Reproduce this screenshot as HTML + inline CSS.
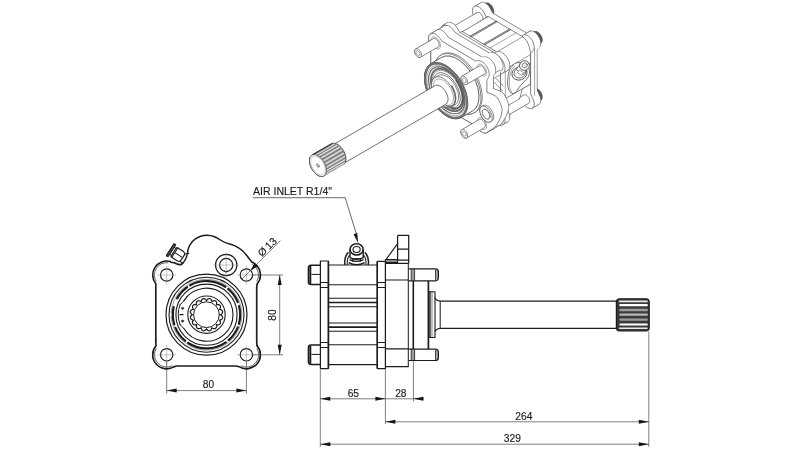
<!DOCTYPE html>
<html><head><meta charset="utf-8"><title>drawing</title>
<style>html,body{margin:0;padding:0;background:#fff}body{width:800px;height:450px;overflow:hidden;font-family:"Liberation Sans",sans-serif}svg{display:block}</style>
</head><body>
<svg width="800" height="450" viewBox="0 0 800 450">
<rect width="800" height="450" fill="#fff"/>
<g stroke-linejoin="round" stroke-linecap="round">
<path d="M485.8 3.2L486.6 2.9L487.6 2.9L488.6 3.2L489.6 3.8L490.6 4.7L491.6 5.7L492.4 7L493 8.3L493.5 9.6L493.7 10.9L493.7 12.1L493.5 13.2L493 14L492.4 14.5L488.9 16.6L488 16.9L487.1 16.9L486.1 16.5L485.1 15.9L484.1 15.1L483.1 14L482.3 12.8L481.7 11.5L481.2 10.1L481 8.8L481 7.6L481.2 6.6L481.6 5.8L482.3 5.2Z" fill="#5a5a5a" stroke="#3a3a3a" stroke-width="0.7"/>
<path d="M490.2 13.6L490.1 12.4L489.7 11L489.2 9.7L488.5 8.4L487.6 7.3L486.6 6.3L485.6 5.6L484.5 5.1L483.6 4.9L482.7 5L482 5.4L481.4 6.1L481.1 7.1L481 8.2L481.1 9.4L481.4 10.8L482 12.1L482.7 13.4L483.6 14.5L484.5 15.5L485.6 16.3L486.6 16.7L487.6 16.9L488.5 16.8L489.2 16.4L489.7 15.7L490.1 14.7Z" fill="#5a5a5a" stroke="#3a3a3a" stroke-width="0.7"/>
<path d="M534.3 31.7L535.1 31.4L536.1 31.5L537.1 31.8L538.1 32.4L539.1 33.2L540.1 34.3L540.9 35.5L541.5 36.8L542 38.2L542.2 39.5L542.2 40.7L542 41.7L541.5 42.5L540.9 43.1L537.4 45.2L536.6 45.4L535.6 45.4L534.6 45.1L533.6 44.5L532.6 43.6L531.6 42.6L530.8 41.4L530.2 40L529.7 38.7L529.5 37.4L529.5 36.2L529.7 35.1L530.2 34.3L530.8 33.8Z" fill="#5a5a5a" stroke="#3a3a3a" stroke-width="0.7"/>
<path d="M538.7 42.2L538.6 40.9L538.2 39.6L537.7 38.3L537 37L536.1 35.8L535.1 34.9L534.1 34.1L533.1 33.6L532.1 33.5L531.2 33.6L530.5 34L529.9 34.7L529.6 35.6L529.5 36.7L529.6 38L529.9 39.3L530.5 40.7L531.2 42L532.1 43.1L533.1 44.1L534.1 44.8L535.1 45.3L536.1 45.5L537 45.3L537.7 44.9L538.2 44.2L538.6 43.3Z" fill="#5a5a5a" stroke="#3a3a3a" stroke-width="0.7"/>
<path d="M534.3 88.6L535.1 88.3L536.1 88.3L537.1 88.6L538.1 89.2L539.1 90.1L540.1 91.2L540.9 92.4L541.5 93.7L542 95L542.2 96.4L542.2 97.6L542 98.6L541.5 99.4L540.9 100L537.4 102L536.6 102.3L535.6 102.3L534.6 102L533.6 101.4L532.6 100.5L531.6 99.4L530.8 98.2L530.2 96.9L529.7 95.6L529.5 94.3L529.5 93L529.7 92L530.2 91.2L530.8 90.6Z" fill="#5a5a5a" stroke="#3a3a3a" stroke-width="0.7"/>
<path d="M538.7 99L538.6 97.8L538.2 96.5L537.7 95.1L537 93.8L536.1 92.7L535.1 91.7L534.1 91L533.1 90.5L532.1 90.3L531.2 90.4L530.5 90.9L529.9 91.6L529.6 92.5L529.5 93.6L529.6 94.9L529.9 96.2L530.5 97.5L531.2 98.8L532.1 100L533.1 100.9L534.1 101.7L535.1 102.2L536.1 102.3L537 102.2L537.7 101.8L538.2 101.1L538.6 100.2Z" fill="#5a5a5a" stroke="#3a3a3a" stroke-width="0.7"/>
<path d="M537.3 49.1L538.9 47.6L540.3 45.9L540.7 44.4L540.7 42.8L540.5 41.3L540.1 39.8L539.6 38.4L538.9 37L538.1 35.7L537.2 34.5L536.2 33.4L535 32.4L533.7 31.6L532.3 31L530.6 30.9L526.9 33.2L492.8 13.1L489.1 6.4L487.3 4.5L485.9 3.4L484.6 2.7L483.5 2.4L482.4 2.3L481.5 2.4L480.7 2.8L480.1 3.4L479.5 4.2L479.1 5.2L478.9 6.5L479 8L479.4 10.1L480.7 13.3L482.7 17.2L482.7 58.1L480.7 59.7L479.4 61.3L479 62.9L478.9 64.4L479.1 65.9L479.5 67.4L480.1 68.8L480.7 70.2L481.5 71.5L482.4 72.7L483.5 73.8L484.6 74.8L485.9 75.6L487.3 76.2L489.1 76.4L492.2 74.7L527.5 95.4L530.6 100.8L532.3 102.7L533.7 103.8L535 104.5L536.2 104.9L537.2 105L538.1 104.8L538.9 104.4L539.6 103.9L540.1 103.1L540.5 102L540.7 100.8L540.7 99.2L540.3 97.2L538.9 93.9L537.3 90.4Z" fill="#fff" stroke="#4d4d4d" stroke-width="0.7"/>
<path d="M536.5 49.5L538.2 48L539.5 46.3L539.9 44.8L540 43.2L539.8 41.7L539.4 40.3L538.9 38.8L538.2 37.5L537.4 36.2L536.5 34.9L535.5 33.8L534.3 32.8L533 32L531.6 31.4L529.8 31.3L526.2 33.6L492 13.5L488.4 6.9L486.6 5L485.2 3.8L483.9 3.2L482.8 2.8L481.7 2.7L480.8 2.8L480 3.2L479.3 3.8L478.8 4.6L478.4 5.6L478.2 6.9L478.3 8.5L478.7 10.5L480 13.7L482 17.6L482 58.5L480 60.1L478.7 61.7L478.3 63.3L478.2 64.8L478.4 66.3L478.8 67.8L479.3 69.2L480 70.6L480.8 71.9L481.7 73.1L482.8 74.3L483.9 75.2L485.2 76.1L486.6 76.6L488.4 76.8L491.5 75.1L526.7 95.9L529.8 101.2L531.6 103.1L533 104.2L534.3 104.9L535.5 105.3L536.5 105.4L537.4 105.2L538.2 104.9L538.9 104.3L539.4 103.5L539.8 102.5L540 101.2L539.9 99.6L539.5 97.6L538.2 94.3L536.5 90.8Z" fill="#fff" stroke="none" stroke-width="0"/>
<path d="M535.8 50L537.5 48.4L538.8 46.8L539.2 45.2L539.3 43.7L539.1 42.2L538.7 40.7L538.2 39.3L537.5 37.9L536.7 36.6L535.8 35.3L534.7 34.2L533.6 33.2L532.3 32.4L530.9 31.8L529.1 31.7L525.4 34.1L491.3 14L487.6 7.3L485.9 5.4L484.5 4.3L483.2 3.6L482 3.2L481 3.1L480.1 3.3L479.3 3.6L478.6 4.2L478.1 5L477.7 6L477.5 7.3L477.5 8.9L477.9 10.9L479.3 14.2L481.2 18.1L481.2 58.9L479.3 60.5L477.9 62.2L477.5 63.7L477.5 65.2L477.7 66.7L478.1 68.2L478.6 69.7L479.3 71L480.1 72.3L481 73.6L482 74.7L483.2 75.7L484.5 76.5L485.9 77.1L487.6 77.2L490.8 75.5L526 96.3L529.1 101.6L530.9 103.5L532.3 104.7L533.6 105.3L534.7 105.7L535.8 105.8L536.7 105.7L537.5 105.3L538.2 104.7L538.7 103.9L539.1 102.9L539.3 101.6L539.2 100L538.8 98L537.5 94.7L535.8 91.2Z" fill="#fff" stroke="none" stroke-width="0"/>
<path d="M535.1 50.4L536.8 48.8L538.1 47.2L538.5 45.6L538.5 44.1L538.3 42.6L538 41.1L537.4 39.7L536.8 38.3L536 37L535 35.8L534 34.6L532.9 33.7L531.6 32.8L530.1 32.3L528.4 32.1L524.7 34.5L490.6 14.4L486.9 7.7L485.2 5.8L483.7 4.7L482.5 4L481.3 3.6L480.3 3.5L479.4 3.7L478.6 4L477.9 4.6L477.4 5.4L477 6.4L476.8 7.7L476.8 9.3L477.2 11.3L478.6 14.6L480.5 18.5L480.5 59.3L478.6 60.9L477.2 62.6L476.8 64.1L476.8 65.7L477 67.2L477.4 68.6L477.9 70.1L478.6 71.4L479.4 72.8L480.3 74L481.3 75.1L482.5 76.1L483.7 76.9L485.2 77.5L486.9 77.6L490 75.9L525.3 96.7L528.4 102L530.1 104L531.6 105.1L532.9 105.8L534 106.1L535 106.2L536 106.1L536.8 105.7L537.4 105.1L538 104.3L538.3 103.3L538.5 102L538.5 100.4L538.1 98.4L536.8 95.2L535.1 91.7Z" fill="#fff" stroke="none" stroke-width="0"/>
<path d="M534.4 50.8L536 49.3L537.4 47.6L537.8 46L537.8 44.5L537.6 43L537.2 41.5L536.7 40.1L536 38.7L535.2 37.4L534.3 36.2L533.3 35.1L532.1 34.1L530.9 33.3L529.4 32.7L527.7 32.5L524 34.9L489.9 14.8L486.2 8.1L484.5 6.2L483 5.1L481.7 4.4L480.6 4L479.6 3.9L478.6 4.1L477.8 4.5L477.2 5L476.6 5.8L476.3 6.9L476.1 8.1L476.1 9.7L476.5 11.8L477.8 15L479.8 18.9L479.8 59.7L477.8 61.3L476.5 63L476.1 64.5L476.1 66.1L476.3 67.6L476.6 69.1L477.2 70.5L477.8 71.9L478.6 73.2L479.6 74.4L480.6 75.5L481.7 76.5L483 77.3L484.5 77.9L486.2 78L489.3 76.4L524.6 97.1L527.7 102.5L529.4 104.4L530.9 105.5L532.1 106.2L533.3 106.5L534.3 106.6L535.2 106.5L536 106.1L536.7 105.5L537.2 104.7L537.6 103.7L537.8 102.4L537.8 100.9L537.4 98.8L536 95.6L534.4 92.1Z" fill="#fff" stroke="none" stroke-width="0"/>
<path d="M533.7 51.2L535.3 49.7L536.7 48L537.1 46.5L537.1 44.9L536.9 43.4L536.5 41.9L536 40.5L535.3 39.1L534.5 37.8L533.6 36.6L532.6 35.5L531.4 34.5L530.1 33.7L528.7 33.1L527 33L523.3 35.3L489.2 15.2L485.5 8.5L483.7 6.6L482.3 5.5L481 4.8L479.9 4.5L478.8 4.4L477.9 4.5L477.1 4.9L476.5 5.5L475.9 6.3L475.5 7.3L475.3 8.6L475.4 10.1L475.8 12.2L477.1 15.4L479.1 19.3L479.1 60.1L477.1 61.7L475.8 63.4L475.4 65L475.3 66.5L475.5 68L475.9 69.5L476.5 70.9L477.1 72.3L477.9 73.6L478.8 74.8L479.9 75.9L481 76.9L482.3 77.7L483.7 78.3L485.5 78.5L488.6 76.8L523.8 97.5L527 102.9L528.7 104.8L530.1 105.9L531.4 106.6L532.6 107L533.6 107.1L534.5 106.9L535.3 106.5L536 106L536.5 105.2L536.9 104.1L537.1 102.9L537.1 101.3L536.7 99.2L535.3 96L533.7 92.5Z" fill="#fff" stroke="none" stroke-width="0"/>
<path d="M532.9 51.6L534.6 50.1L535.9 48.4L536.3 46.9L536.4 45.3L536.2 43.8L535.8 42.4L535.3 40.9L534.6 39.6L533.8 38.2L532.9 37L531.8 35.9L530.7 34.9L529.4 34.1L528 33.5L526.2 33.4L522.6 35.7L488.4 15.6L484.8 9L483 7L481.6 5.9L480.3 5.2L479.2 4.9L478.1 4.8L477.2 4.9L476.4 5.3L475.7 5.9L475.2 6.7L474.8 7.7L474.6 9L474.7 10.6L475.1 12.6L476.4 15.8L478.4 19.7L478.4 60.6L476.4 62.2L475.1 63.8L474.7 65.4L474.6 66.9L474.8 68.4L475.2 69.9L475.7 71.3L476.4 72.7L477.2 74L478.1 75.2L479.2 76.4L480.3 77.3L481.6 78.2L483 78.7L484.8 78.9L487.9 77.2L523.1 97.9L526.2 103.3L528 105.2L529.4 106.3L530.7 107L531.8 107.4L532.9 107.5L533.8 107.3L534.6 107L535.3 106.4L535.8 105.6L536.2 104.6L536.4 103.3L536.3 101.7L535.9 99.7L534.6 96.4L532.9 92.9Z" fill="#fff" stroke="none" stroke-width="0"/>
<path d="M532.2 52.1L533.9 50.5L535.2 48.8L535.6 47.3L535.7 45.8L535.5 44.3L535.1 42.8L534.5 41.3L533.9 40L533.1 38.7L532.2 37.4L531.1 36.3L530 35.3L528.7 34.5L527.3 33.9L525.5 33.8L521.8 36.2L487.7 16.1L484 9.4L482.3 7.5L480.9 6.3L479.6 5.7L478.4 5.3L477.4 5.2L476.5 5.3L475.7 5.7L475 6.3L474.5 7.1L474.1 8.1L473.9 9.4L473.9 11L474.3 13L475.7 16.3L477.6 20.1L477.6 61L475.7 62.6L474.3 64.2L473.9 65.8L473.9 67.3L474.1 68.8L474.5 70.3L475 71.7L475.7 73.1L476.5 74.4L477.4 75.7L478.4 76.8L479.6 77.8L480.9 78.6L482.3 79.2L484 79.3L487.2 77.6L522.4 98.4L525.5 103.7L527.3 105.6L528.7 106.7L530 107.4L531.1 107.8L532.2 107.9L533.1 107.7L533.9 107.4L534.5 106.8L535.1 106L535.5 105L535.7 103.7L535.6 102.1L535.2 100.1L533.9 96.8L532.2 93.3Z" fill="#fff" stroke="none" stroke-width="0"/>
<path d="M531.5 52.5L533.2 50.9L534.5 49.3L534.9 47.7L534.9 46.2L534.7 44.7L534.4 43.2L533.8 41.8L533.2 40.4L532.4 39.1L531.4 37.9L530.4 36.7L529.3 35.8L528 34.9L526.5 34.4L524.8 34.2L521.1 36.6L487 16.5L483.3 9.8L481.6 7.9L480.1 6.8L478.9 6.1L477.7 5.7L476.7 5.6L475.8 5.8L475 6.1L474.3 6.7L473.8 7.5L473.4 8.5L473.2 9.8L473.2 11.4L473.6 13.4L475 16.7L476.9 20.6L476.9 61.4L475 63L473.6 64.7L473.2 66.2L473.2 67.8L473.4 69.3L473.8 70.7L474.3 72.2L475 73.5L475.8 74.8L476.7 76.1L477.7 77.2L478.9 78.2L480.1 79L481.6 79.6L483.3 79.7L486.4 78L521.7 98.8L524.8 104.1L526.5 106L528 107.2L529.3 107.8L530.4 108.2L531.4 108.3L532.4 108.2L533.2 107.8L533.8 107.2L534.4 106.4L534.7 105.4L534.9 104.1L534.9 102.5L534.5 100.5L533.2 97.3L531.5 93.8Z" fill="#fff" stroke="none" stroke-width="0"/>
<path d="M530.6 30.9L524.1 34.6" fill="none" stroke="#4d4d4d" stroke-width="0.7"/>
<path d="M480.7 2.8L474.2 6.6" fill="none" stroke="#4d4d4d" stroke-width="0.7"/>
<path d="M538.9 104.4L532.4 108.2" fill="none" stroke="#4d4d4d" stroke-width="0.7"/>
<path d="M530.8 52.9L532.4 51.3L533.8 49.7L534.2 48.1L534.2 46.6L534 45.1L533.6 43.6L533.1 42.2L532.4 40.8L531.6 39.5L530.7 38.3L529.7 37.2L528.5 36.2L527.3 35.4L525.8 34.8L524.1 34.6L520.4 37L486.3 16.9L482.6 10.2L480.9 8.3L479.4 7.2L478.1 6.5L477 6.1L476 6L475 6.2L474.2 6.6L473.6 7.1L473 7.9L472.7 9L472.5 10.2L472.5 11.8L472.9 13.8L474.2 17.1L476.2 21L476.2 61.8L474.2 63.4L472.9 65.1L472.5 66.6L472.5 68.2L472.7 69.7L473 71.2L473.6 72.6L474.2 74L475 75.3L476 76.5L477 77.6L478.1 78.6L479.4 79.4L480.9 80L482.6 80.1L485.7 78.4L521 99.2L524.1 104.6L525.8 106.5L527.3 107.6L528.5 108.3L529.7 108.6L530.7 108.7L531.6 108.6L532.4 108.2L533.1 107.6L533.6 106.8L534 105.8L534.2 104.5L534.2 103L533.8 100.9L532.4 97.7L530.8 94.2Z" fill="#fff" stroke="#4d4d4d" stroke-width="0.7"/>
<path d="M534.6 95.4L534.6 48.6" fill="none" stroke="#4d4d4d" stroke-width="0.5"/>
<path d="M477.3 12.6L477.9 12.4L478.5 12.4L479.3 12.6L480 13L480.8 13.7L481.4 14.4L482 15.3L482.5 16.3L482.8 17.2L483 18.2L483 19.1L482.8 19.8L482.5 20.4L482 20.8L456.1 35.9L455.5 36.1L454.8 36.1L454.1 35.8L453.3 35.4L452.6 34.8L451.9 34L451.3 33.1L450.9 32.2L450.5 31.2L450.4 30.2L450.4 29.4L450.5 28.6L450.9 28L451.3 27.6Z" fill="#fff" stroke="#4d4d4d" stroke-width="0.7"/>
<path d="M457 33.7L457 32.8L456.7 31.8L456.3 30.9L455.8 29.9L455.2 29.1L454.4 28.4L453.7 27.9L453 27.5L452.2 27.4L451.6 27.5L451.1 27.8L450.7 28.3L450.4 29L450.3 29.8L450.4 30.7L450.7 31.7L451.1 32.6L451.6 33.6L452.2 34.4L453 35.1L453.7 35.6L454.4 36L455.2 36.1L455.8 36L456.3 35.7L456.7 35.2L457 34.5Z" fill="#fff" stroke="#4d4d4d" stroke-width="0.7"/>
<path d="M524.1 94.9L524.6 94.7L525.3 94.8L526 95L526.8 95.4L527.5 96.1L528.2 96.8L528.8 97.7L529.3 98.7L529.6 99.6L529.8 100.6L529.8 101.5L529.6 102.2L529.3 102.8L528.8 103.2L502.9 118.3L502.3 118.5L501.6 118.5L500.9 118.2L500.1 117.8L499.4 117.2L498.7 116.4L498.1 115.5L497.6 114.6L497.3 113.6L497.1 112.6L497.1 111.8L497.3 111L497.6 110.4L498.1 110Z" fill="#fff" stroke="#4d4d4d" stroke-width="0.7"/>
<path d="M503.8 116.1L503.7 115.2L503.5 114.2L503.1 113.3L502.6 112.3L501.9 111.5L501.2 110.8L500.5 110.3L499.7 109.9L499 109.8L498.4 109.9L497.9 110.2L497.5 110.7L497.2 111.4L497.1 112.2L497.2 113.1L497.5 114.1L497.9 115L498.4 116L499 116.8L499.7 117.5L500.5 118L501.2 118.4L501.9 118.5L502.6 118.4L503.1 118.1L503.5 117.6L503.7 116.9Z" fill="#fff" stroke="#4d4d4d" stroke-width="0.7"/>
<path d="M488.3 16.6L522.7 36.8L524.7 38.5L526.6 40.9L528.2 43.9L529.4 47.4L530.2 51L530.5 54.6L530.5 84.1L522.4 88.7L519.5 98.9L479.1 75.1L476.2 69.5L476.2 24Z" fill="#fff" stroke="#4d4d4d" stroke-width="0.7"/>
<path d="M487.6 17L522 37.3L524 38.9L525.8 41.3L527.4 44.4L528.7 47.8L529.5 51.5L529.7 55.1L529.7 84.5L521.6 89.1L518.7 99.3L478.3 75.5L475.4 69.9L475.4 24.5Z" fill="#fff" stroke="none" stroke-width="0"/>
<path d="M486.8 17.5L521.2 37.7L523.2 39.3L525.1 41.8L526.7 44.8L527.9 48.3L528.7 51.9L529 55.5L529 85L520.9 89.6L518 99.8L477.6 76L474.7 70.4L474.7 24.9Z" fill="#fff" stroke="none" stroke-width="0"/>
<path d="M486 17.9L520.4 38.2L522.5 39.8L524.3 42.2L525.9 45.3L527.2 48.7L527.9 52.4L528.2 56L528.2 85.4L520.1 90L517.2 100.2L476.8 76.4L473.9 70.8L473.9 25.3Z" fill="#fff" stroke="none" stroke-width="0"/>
<path d="M485.3 18.3L519.7 38.6L521.7 40.2L523.6 42.7L525.2 45.7L526.4 49.2L527.2 52.8L527.4 56.4L527.4 85.8L519.3 90.4L516.5 100.7L476 76.9L473.1 71.3L473.1 25.8Z" fill="#fff" stroke="none" stroke-width="0"/>
<path d="M484.5 18.8L518.9 39L520.9 40.7L522.8 43.1L524.4 46.1L525.6 49.6L526.4 53.3L526.7 56.8L526.7 86.3L518.6 90.9L515.7 101.1L475.3 77.3L472.4 71.7L472.4 26.2Z" fill="#fff" stroke="none" stroke-width="0"/>
<path d="M483.7 19.2L518.2 39.5L520.2 41.1L522 43.5L523.6 46.6L524.9 50.1L525.6 53.7L525.9 57.3L525.9 86.7L517.8 91.3L514.9 101.5L474.5 77.7L471.6 72.2L471.6 26.7Z" fill="#fff" stroke="none" stroke-width="0"/>
<path d="M483 19.7L517.4 39.9L519.4 41.6L521.3 44L522.9 47L524.1 50.5L524.9 54.1L525.1 57.7L525.1 87.2L517 91.8L514.2 102L473.7 78.2L470.8 72.6L470.8 27.1Z" fill="#fff" stroke="none" stroke-width="0"/>
<path d="M482.2 20.1L516.6 40.4L518.6 42L520.5 44.4L522.1 47.5L523.3 50.9L524.1 54.6L524.4 58.2L524.4 87.6L516.3 92.2L513.4 102.4L473 78.6L470.1 73L470.1 27.6Z" fill="#fff" stroke="none" stroke-width="0"/>
<path d="M481.4 20.6L515.9 40.8L517.9 42.4L519.7 44.9L521.3 47.9L522.6 51.4L523.3 55L523.6 58.6L523.6 88.1L515.5 92.7L512.6 102.9L472.2 79.1L469.3 73.5L469.3 28Z" fill="#fff" stroke="none" stroke-width="0"/>
<path d="M480.7 21L515.1 41.3L517.1 42.9L519 45.3L520.6 48.4L521.8 51.8L522.6 55.5L522.8 59.1L522.8 88.5L514.8 93.1L511.9 103.3L471.4 79.5L468.6 73.9L468.6 28.4Z" fill="#fff" stroke="none" stroke-width="0"/>
<path d="M479.9 21.4L514.3 41.7L516.3 43.3L518.2 45.8L519.8 48.8L521 52.3L521.8 55.9L522.1 59.5L522.1 88.9L514 93.5L511.1 103.8L470.7 80L467.8 74.4L467.8 28.9Z" fill="#fff" stroke="none" stroke-width="0"/>
<path d="M479.2 21.9L513.6 42.1L515.6 43.8L517.4 46.2L519 49.2L520.3 52.7L521.1 56.4L521.3 59.9L521.3 89.4L513.2 94L510.3 104.2L469.9 80.4L467 74.8L467 29.3Z" fill="#fff" stroke="none" stroke-width="0"/>
<path d="M478.4 22.3L512.8 42.6L514.8 44.2L516.7 46.6L518.3 49.7L519.5 53.2L520.3 56.8L520.6 60.4L520.6 89.8L512.5 94.4L509.6 104.6L469.2 80.8L466.3 75.3L466.3 29.8Z" fill="#fff" stroke="none" stroke-width="0"/>
<path d="M477.6 22.8L512.1 43L514.1 44.7L515.9 47.1L517.5 50.1L518.8 53.6L519.5 57.3L519.8 60.8L519.8 90.3L511.7 94.9L508.8 105.1L468.4 81.3L465.5 75.7L465.5 30.2Z" fill="#fff" stroke="none" stroke-width="0"/>
<path d="M476.9 23.2L511.3 43.5L513.3 45.1L515.2 47.5L516.8 50.6L518 54L518.8 57.7L519 61.3L519 90.7L510.9 95.3L508.1 105.5L467.6 81.7L464.7 76.1L464.7 30.7Z" fill="#fff" stroke="none" stroke-width="0"/>
<path d="M476.1 23.7L510.5 43.9L512.5 45.5L514.4 48L516 51L517.2 54.5L518 58.1L518.3 61.7L518.3 91.2L510.2 95.8L507.3 106L466.9 82.2L464 76.6L464 31.1Z" fill="#fff" stroke="none" stroke-width="0"/>
<path d="M475.3 24.1L509.8 44.4L511.8 46L513.6 48.4L515.2 51.5L516.5 54.9L517.2 58.6L517.5 62.2L517.5 91.6L509.4 96.2L506.5 106.4L466.1 82.6L463.2 77L463.2 31.5Z" fill="#fff" stroke="none" stroke-width="0"/>
<path d="M474.6 24.5L509 44.8L511 46.4L512.9 48.9L514.5 51.9L515.7 55.4L516.5 59L516.7 62.6L516.7 92L508.6 96.6L505.8 106.9L465.3 83.1L462.4 77.5L462.4 32Z" fill="#fff" stroke="none" stroke-width="0"/>
<path d="M473.8 25L508.2 45.2L510.2 46.9L512.1 49.3L513.7 52.3L514.9 55.8L515.7 59.5L516 63.1L516 92.5L507.9 97.1L505 107.3L464.6 83.5L461.7 77.9L461.7 32.4Z" fill="#fff" stroke="none" stroke-width="0"/>
<path d="M473.1 25.4L507.5 45.7L509.5 47.3L511.3 49.7L512.9 52.8L514.2 56.3L514.9 59.9L515.2 63.5L515.2 92.9L507.1 97.5L504.2 107.7L463.8 83.9L460.9 78.4L460.9 32.9Z" fill="#fff" stroke="none" stroke-width="0"/>
<path d="M472.3 25.9L506.7 46.1L508.7 47.8L510.6 50.2L512.2 53.2L513.4 56.7L514.2 60.4L514.4 63.9L514.4 93.4L506.4 98L503.5 108.2L463 84.4L460.2 78.8L460.2 33.3Z" fill="#fff" stroke="none" stroke-width="0"/>
<path d="M471.5 26.3L505.9 46.6L507.9 48.2L509.8 50.6L511.4 53.7L512.6 57.1L513.4 60.8L513.7 64.4L513.7 93.8L505.6 98.4L502.7 108.6L462.3 84.8L459.4 79.2L459.4 33.8Z" fill="#fff" stroke="none" stroke-width="0"/>
<path d="M470.8 26.8L505.2 47L507.2 48.7L509 51.1L510.7 54.1L511.9 57.6L512.7 61.2L512.9 64.8L512.9 94.3L504.8 98.9L501.9 109.1L461.5 85.3L458.6 79.7L458.6 34.2Z" fill="#fff" stroke="none" stroke-width="0"/>
<path d="M470 27.2L504.4 47.5L506.4 49.1L508.3 51.5L509.9 54.6L511.1 58L511.9 61.7L512.2 65.3L512.2 94.7L504.1 99.3L501.2 109.5L460.8 85.7L457.9 80.1L457.9 34.6Z" fill="#fff" stroke="none" stroke-width="0"/>
<path d="M469.2 27.6L503.7 47.9L505.7 49.5L507.5 52L509.1 55L510.4 58.5L511.1 62.1L511.4 65.7L511.4 95.1L503.3 99.8L500.4 110L460 86.2L457.1 80.6L457.1 35.1Z" fill="#fff" stroke="none" stroke-width="0"/>
<path d="M468.5 28.1L502.9 48.3L504.9 50L506.8 52.4L508.4 55.5L509.6 58.9L510.4 62.6L510.6 66.2L510.6 95.6L502.5 100.2L499.7 110.4L459.2 86.6L456.3 81L456.3 35.5Z" fill="#fff" stroke="none" stroke-width="0"/>
<path d="M467.7 28.5L502.1 48.8L504.1 50.4L506 52.8L507.6 55.9L508.8 59.4L509.6 63L509.9 66.6L509.9 96L501.8 100.6L498.9 110.8L458.5 87L455.6 81.5L455.6 36Z" fill="#fff" stroke="none" stroke-width="0"/>
<path d="M466.9 29L501.4 49.2L503.4 50.9L505.2 53.3L506.8 56.3L508.1 59.8L508.8 63.5L509.1 67L509.1 96.5L501 101.1L498.1 111.3L457.7 87.5L454.8 81.9L454.8 36.4Z" fill="#fff" stroke="none" stroke-width="0"/>
<path d="M466.2 29.4L500.6 49.7L502.6 51.3L504.5 53.7L506.1 56.8L507.3 60.2L508.1 63.9L508.3 67.5L508.3 96.9L500.3 101.5L497.4 111.7L456.9 87.9L454.1 82.4L454.1 36.9Z" fill="#fff" stroke="none" stroke-width="0"/>
<path d="M465.4 29.9L499.8 50.1L501.8 51.8L503.7 54.2L505.3 57.2L506.5 60.7L507.3 64.3L507.6 67.9L507.6 97.4L499.5 102L496.6 112.2L456.2 88.4L453.3 82.8L453.3 37.3Z" fill="#fff" stroke="none" stroke-width="0"/>
<path d="M464.7 30.3L499.1 50.6L501.1 52.2L502.9 54.6L504.5 57.7L505.8 61.1L506.5 64.8L506.8 68.4L506.8 97.8L498.7 102.4L495.8 112.6L455.4 88.8L452.5 83.2L452.5 37.7Z" fill="#fff" stroke="none" stroke-width="0"/>
<path d="M463.9 30.7L498.3 51L500.3 52.6L502.2 55.1L503.8 58.1L505 61.6L505.8 65.2L506 68.8L506 98.2L498 102.9L495.1 113.1L454.6 89.3L451.8 83.7L451.8 38.2Z" fill="#fff" stroke="none" stroke-width="0"/>
<path d="M463.1 31.2L497.5 51.5L499.5 53.1L501.4 55.5L503 58.6L504.2 62L505 65.7L505.3 69.3L505.3 98.7L497.2 103.3L494.3 113.5L453.9 89.7L451 84.1L451 38.6Z" fill="#fff" stroke="none" stroke-width="0"/>
<path d="M462.4 31.6L496.8 51.9L498.8 53.5L500.6 55.9L502.3 59L503.5 62.5L504.3 66.1L504.5 69.7L504.5 99.1L496.4 103.7L493.5 113.9L453.1 90.1L450.2 84.6L450.2 39.1Z" fill="#fff" stroke="#4d4d4d" stroke-width="0.7"/>
<path d="M488.3 16.6L462.4 31.6" fill="none" stroke="#4d4d4d" stroke-width="0.7"/>
<path d="M522.7 36.8L496.8 51.9" fill="none" stroke="#4d4d4d" stroke-width="0.55"/>
<path d="M530.5 54.6L504.5 69.7" fill="none" stroke="#4d4d4d" stroke-width="0.55"/>
<path d="M530.5 84.1L504.5 99.1" fill="none" stroke="#4d4d4d" stroke-width="0.7"/>
<path d="M519.5 98.9L493.5 113.9" fill="none" stroke="#4d4d4d" stroke-width="0.6"/>
<path d="M496.1 21.1L470.1 36.2" fill="none" stroke="#555" stroke-width="0.9"/>
<path d="M497.1 21.7L471.1 36.8" fill="none" stroke="#555" stroke-width="0.9"/>
<path d="M509.6 29.1L483.6 44.1" fill="none" stroke="#555" stroke-width="0.9"/>
<path d="M510.6 29.7L484.7 44.8" fill="none" stroke="#555" stroke-width="0.9"/>
<path d="M516 32.9L490.1 48" fill="none" stroke="#4d4d4d" stroke-width="0.5"/>
<path d="M513 65Q510.6 67.2 509.4 70.5Q507.6 76 507.5 83Q507.6 88 509.4 91Q511 93.8 513.2 93.6Q515.4 93.2 517 90.6Q518.4 88 520.4 85.6Q523 82.6 526 80Q529 77.2 529.6 73Q530 68 526.6 64.6Q522 61.6 517 62.6Q514.6 63.4 513 65Z" fill="#fff" stroke="#4d4d4d" stroke-width="0.8"/>
<path d="M514.4 66.2Q511.6 68.6 510.4 73Q509 79 509.3 85Q509.6 89.6 511.6 91.8" fill="none" stroke="#4d4d4d" stroke-width="0.5"/>
<ellipse cx="519.5" cy="73.5" rx="7.7" ry="6.5" transform="rotate(-20 519.5 73.5)" fill="#fff" stroke="#555" stroke-width="0.9"/>
<ellipse cx="519.9" cy="72.9" rx="6.0" ry="5.0" transform="rotate(-20 519.9 72.9)" fill="#fff" stroke="#4d4d4d" stroke-width="0.7"/>
<path d="M516.4 69.2L521.6 62.2L528.2 66.6L523.6 74.4Z" fill="#fff" stroke="#4d4d4d" stroke-width="0.7"/>
<path d="M517.6 72.4L519.4 70L523.6 72.6L521.8 75Z" fill="#fff" stroke="#4d4d4d" stroke-width="0.6"/>
<ellipse cx="524.5" cy="65.5" rx="5.0" ry="4.8" transform="rotate(-20 524.5 65.5)" fill="#fff" stroke="#555" stroke-width="0.9"/>
<ellipse cx="524.7" cy="65.3" rx="2.7" ry="2.5" transform="rotate(-20 524.7 65.3)" fill="#e6e6e6" stroke="#4d4d4d" stroke-width="0.6"/>
<path d="M505.4 71.3L508.3 70L509.2 68.6L509.6 67.2L509.7 65.7L509.6 64.3L509.4 62.9L508.9 61.4L508.4 60L507.7 58.7L506.9 57.4L506.1 56.1L505.1 54.9L504 53.9L502.8 53L501.4 52.2L499.9 51.7L498.1 51.6L495 53.1L459.7 32.3L456.7 27.2L454.8 25.1L453.3 23.9L452 23.1L450.8 22.6L449.7 22.3L448.7 22.3L447.8 22.5L447 22.9L446.4 23.5L445.8 24.3L445.4 25.2L445.1 26.3L445 27.7L445.2 29.2L445.6 31.1L446.4 33.5L449.7 38.7L449.7 73.6L446.4 74.9L445.6 76.3L445.2 77.7L445 79.2L445.1 80.6L445.4 82L445.8 83.5L446.4 84.9L447 86.2L447.8 87.5L448.7 88.8L449.7 89.9L450.8 91L452 91.9L453.3 92.7L454.8 93.2L456.7 93.3L459.1 92.5L495.6 114L498.1 117.7L499.9 119.8L501.4 121L502.8 121.8L504 122.3L505.1 122.5L506.1 122.6L506.9 122.4L507.7 122L508.4 121.4L508.9 120.6L509.4 119.7L509.6 118.6L509.7 117.2L509.6 115.7L509.2 113.8L508.3 111.4L505.4 106.6Z" fill="#fff" stroke="#4d4d4d" stroke-width="0.7"/>
<path d="M504.7 71.7L507.6 70.4L508.5 69L508.9 67.6L509 66.1L508.9 64.7L508.7 63.2L508.3 61.8L507.7 60.4L507.1 59.1L506.3 57.7L505.4 56.5L504.4 55.3L503.3 54.3L502.1 53.4L500.8 52.6L499.2 52.1L497.4 52L494.4 53.5L459 32.7L456 27.6L454.2 25.5L452.7 24.3L451.3 23.5L450.1 23L449 22.7L448 22.7L447.1 22.9L446.4 23.3L445.7 23.9L445.1 24.6L444.7 25.6L444.5 26.7L444.4 28.1L444.5 29.6L444.9 31.5L445.8 33.9L449 39.1L449 74L445.8 75.3L444.9 76.7L444.5 78.1L444.4 79.5L444.5 81L444.7 82.4L445.1 83.9L445.7 85.3L446.4 86.6L447.1 87.9L448 89.2L449 90.3L450.1 91.4L451.3 92.3L452.7 93.1L454.2 93.6L456 93.7L458.4 92.9L495 114.4L497.4 118.1L499.2 120.2L500.8 121.4L502.1 122.2L503.3 122.7L504.4 122.9L505.4 122.9L506.3 122.8L507.1 122.4L507.7 121.8L508.3 121L508.7 120.1L508.9 119L509 117.6L508.9 116.1L508.5 114.2L507.6 111.7L504.7 106.9Z" fill="#fff" stroke="none" stroke-width="0"/>
<path d="M504 72.1L507 70.8L507.9 69.4L508.3 68L508.4 66.5L508.3 65.1L508 63.6L507.6 62.2L507 60.8L506.4 59.4L505.6 58.1L504.7 56.9L503.7 55.7L502.6 54.7L501.4 53.7L500.1 53L498.6 52.5L496.7 52.4L493.7 53.9L458.4 33.1L455.3 28L453.5 25.9L452 24.7L450.6 23.9L449.4 23.4L448.3 23.1L447.3 23.1L446.5 23.3L445.7 23.7L445 24.3L444.5 25L444 26L443.8 27.1L443.7 28.4L443.8 30L444.2 31.9L445.1 34.3L448.3 39.5L448.3 74.3L445.1 75.7L444.2 77.1L443.8 78.5L443.7 79.9L443.8 81.4L444 82.8L444.5 84.3L445 85.7L445.7 87L446.5 88.3L447.3 89.6L448.3 90.7L449.4 91.8L450.6 92.7L452 93.5L453.5 94L455.3 94.1L457.8 93.3L494.3 114.8L496.7 118.5L498.6 120.5L500.1 121.8L501.4 122.6L502.6 123.1L503.7 123.3L504.7 123.3L505.6 123.1L506.4 122.8L507 122.2L507.6 121.4L508 120.5L508.3 119.4L508.4 118L508.3 116.4L507.9 114.6L507 112.1L504 107.3Z" fill="#fff" stroke="none" stroke-width="0"/>
<path d="M503.4 72.5L506.3 71.1L507.2 69.8L507.6 68.4L507.7 66.9L507.6 65.5L507.3 64L506.9 62.6L506.4 61.2L505.7 59.8L504.9 58.5L504 57.3L503 56.1L501.9 55.1L500.7 54.1L499.4 53.4L497.9 52.9L496.1 52.8L493 54.3L457.7 33.5L454.6 28.4L452.8 26.3L451.3 25.1L450 24.2L448.8 23.8L447.7 23.5L446.7 23.5L445.8 23.7L445 24.1L444.3 24.7L443.8 25.4L443.4 26.4L443.1 27.5L443 28.8L443.1 30.4L443.5 32.3L444.4 34.7L447.6 39.9L447.6 74.7L444.4 76.1L443.5 77.5L443.1 78.9L443 80.3L443.1 81.8L443.4 83.2L443.8 84.6L444.3 86L445 87.4L445.8 88.7L446.7 90L447.7 91.1L448.8 92.2L450 93.1L451.3 93.9L452.8 94.4L454.6 94.5L457.1 93.6L493.6 115.1L496.1 118.8L497.9 120.9L499.4 122.2L500.7 123L501.9 123.5L503 123.7L504 123.7L504.9 123.5L505.7 123.1L506.4 122.6L506.9 121.8L507.3 120.9L507.6 119.7L507.7 118.4L507.6 116.8L507.2 115L506.3 112.5L503.4 107.7Z" fill="#fff" stroke="none" stroke-width="0"/>
<path d="M502.7 72.9L505.6 71.5L506.5 70.2L506.9 68.7L507 67.3L506.9 65.9L506.7 64.4L506.2 63L505.7 61.6L505 60.2L504.2 58.9L503.4 57.7L502.4 56.5L501.3 55.5L500.1 54.5L498.7 53.8L497.2 53.2L495.4 53.2L492.3 54.6L457 33.8L454 28.8L452.1 26.7L450.6 25.4L449.3 24.6L448.1 24.1L447 23.9L446 23.9L445.1 24.1L444.3 24.5L443.7 25.1L443.1 25.8L442.7 26.8L442.4 27.9L442.3 29.2L442.5 30.8L442.9 32.7L443.7 35.1L447 40.3L447 75.1L443.7 76.5L442.9 77.9L442.5 79.3L442.3 80.7L442.4 82.2L442.7 83.6L443.1 85L443.7 86.4L444.3 87.8L445.1 89.1L446 90.4L447 91.5L448.1 92.6L449.3 93.5L450.6 94.3L452.1 94.8L454 94.8L456.4 94L492.9 115.5L495.4 119.2L497.2 121.3L498.7 122.6L500.1 123.4L501.3 123.9L502.4 124.1L503.4 124.1L504.2 123.9L505 123.5L505.7 123L506.2 122.2L506.7 121.3L506.9 120.1L507 118.8L506.9 117.2L506.5 115.3L505.6 112.9L502.7 108.1Z" fill="#fff" stroke="none" stroke-width="0"/>
<path d="M502 73.3L504.9 71.9L505.8 70.5L506.2 69.1L506.3 67.7L506.2 66.3L506 64.8L505.6 63.4L505 62L504.4 60.6L503.6 59.3L502.7 58.1L501.7 56.9L500.6 55.8L499.4 54.9L498.1 54.2L496.6 53.6L494.7 53.6L491.7 55L456.3 34.2L453.3 29.2L451.5 27.1L450 25.8L448.6 25L447.4 24.5L446.3 24.3L445.3 24.3L444.4 24.5L443.7 24.9L443 25.5L442.4 26.2L442 27.2L441.8 28.3L441.7 29.6L441.8 31.2L442.2 33.1L443.1 35.5L446.3 40.6L446.3 75.5L443.1 76.9L442.2 78.3L441.8 79.7L441.7 81.1L441.8 82.6L442 84L442.4 85.4L443 86.8L443.7 88.2L444.4 89.5L445.3 90.7L446.3 91.9L447.4 93L448.6 93.9L450 94.7L451.5 95.2L453.3 95.2L455.7 94.4L492.3 115.9L494.7 119.6L496.6 121.7L498.1 123L499.4 123.8L500.6 124.3L501.7 124.5L502.7 124.5L503.6 124.3L504.4 123.9L505 123.4L505.6 122.6L506 121.7L506.2 120.5L506.3 119.2L506.2 117.6L505.8 115.7L504.9 113.3L502 108.5Z" fill="#fff" stroke="none" stroke-width="0"/>
<path d="M501.3 73.7L504.3 72.3L505.2 70.9L505.6 69.5L505.7 68.1L505.6 66.6L505.3 65.2L504.9 63.8L504.3 62.4L503.7 61L502.9 59.7L502 58.5L501 57.3L499.9 56.2L498.7 55.3L497.4 54.6L495.9 54L494 54L491 55.4L455.7 34.6L452.6 29.6L450.8 27.5L449.3 26.2L447.9 25.4L446.7 24.9L445.6 24.7L444.7 24.7L443.8 24.9L443 25.3L442.3 25.8L441.8 26.6L441.4 27.5L441.1 28.7L441 30L441.1 31.6L441.5 33.5L442.4 35.9L445.6 41L445.6 75.9L442.4 77.3L441.5 78.7L441.1 80.1L441 81.5L441.1 83L441.4 84.4L441.8 85.8L442.3 87.2L443 88.6L443.8 89.9L444.7 91.1L445.6 92.3L446.7 93.4L447.9 94.3L449.3 95L450.8 95.6L452.6 95.6L455.1 94.8L491.6 116.3L494 120L495.9 122.1L497.4 123.4L498.7 124.2L499.9 124.7L501 124.9L502 124.9L502.9 124.7L503.7 124.3L504.3 123.7L504.9 123L505.3 122L505.6 120.9L505.7 119.6L505.6 118L505.2 116.1L504.3 113.7L501.3 108.9Z" fill="#fff" stroke="none" stroke-width="0"/>
<path d="M508.3 70L503.6 72.7" fill="none" stroke="#4d4d4d" stroke-width="0.7"/>
<path d="M447 22.9L442.3 25.7" fill="none" stroke="#4d4d4d" stroke-width="0.7"/>
<path d="M446.4 74.9L441.7 77.7" fill="none" stroke="#4d4d4d" stroke-width="0.7"/>
<path d="M507.7 122L503 124.7" fill="none" stroke="#4d4d4d" stroke-width="0.7"/>
<path d="M500.7 74.1L503.6 72.7L504.5 71.3L504.9 69.9L505 68.5L504.9 67L504.6 65.6L504.2 64.2L503.7 62.8L503 61.4L502.2 60.1L501.3 58.8L500.3 57.7L499.2 56.6L498 55.7L496.7 54.9L495.2 54.4L493.4 54.4L490.3 55.8L455 35L451.9 30L450.1 27.9L448.6 26.6L447.3 25.8L446.1 25.3L445 25.1L444 25.1L443.1 25.3L442.3 25.7L441.6 26.2L441.1 27L440.7 27.9L440.4 29.1L440.3 30.4L440.4 32L440.8 33.9L441.7 36.3L444.9 41.4L444.9 76.3L441.7 77.7L440.8 79L440.4 80.5L440.3 81.9L440.4 83.3L440.7 84.8L441.1 86.2L441.6 87.6L442.3 89L443.1 90.3L444 91.5L445 92.7L446.1 93.7L447.3 94.7L448.6 95.4L450.1 96L451.9 96L454.4 95.2L490.9 116.7L493.4 120.4L495.2 122.5L496.7 123.8L498 124.6L499.2 125.1L500.3 125.3L501.3 125.3L502.2 125.1L503 124.7L503.7 124.1L504.2 123.4L504.6 122.4L504.9 121.3L505 120L504.9 118.4L504.5 116.5L503.6 114.1L500.7 109.3Z" fill="#fff" stroke="#4d4d4d" stroke-width="0.7"/>
<path d="M500.7 71.8L501.6 70.4L502.6 69L503 67.5L503 66.1L502.9 64.6L502.6 63.2L502.2 61.8L501.6 60.4L500.9 59.1L500.1 57.8L499.2 56.7L498.2 55.6L497.1 54.6L496 53.7L494.7 53.1L493.2 52.6L491.5 52.7L489.6 53.1L455.7 33.1L453.8 30.5L452.1 28.4L450.6 27.1L449.3 26.3L448.2 25.7L447.1 25.4L446.1 25.4L445.2 25.5L444.4 25.8L443.7 26.4L443.2 27L442.7 27.9L442.4 29L442.3 30.3L442.4 31.9L442.7 33.8L443.7 36.3L444.6 38.8L444.6 78.6L443.7 79.9L442.7 81.4L442.4 82.8L442.3 84.3L442.4 85.8L442.7 87.2L443.2 88.6L443.7 90L444.4 91.3L445.2 92.5L446.1 93.7L447.1 94.8L448.2 95.8L449.3 96.7L450.6 97.3L452.1 97.7L453.8 97.7L455.3 97.8L490 118.2L491.5 119.9L493.2 122L494.7 123.2L496 124.1L497.1 124.6L498.2 124.9L499.2 125L500.1 124.9L500.9 124.5L501.6 124L502.2 123.3L502.6 122.4L502.9 121.4L503 120.1L503 118.5L502.6 116.6L501.6 114.1L500.7 111.6Z" fill="#fff" stroke="#4d4d4d" stroke-width="0.7"/>
<path d="M499.9 72.2L500.9 70.9L501.8 69.4L502.2 68L502.3 66.5L502.1 65.1L501.8 63.6L501.4 62.2L500.8 60.9L500.1 59.5L499.3 58.3L498.5 57.1L497.5 56L496.4 55L495.2 54.2L493.9 53.5L492.5 53.1L490.7 53.1L488.9 53.5L454.9 33.5L453.1 31L451.3 28.9L449.9 27.6L448.6 26.7L447.4 26.2L446.3 25.9L445.3 25.8L444.4 26L443.6 26.3L443 26.8L442.4 27.5L441.9 28.4L441.6 29.5L441.5 30.8L441.6 32.3L442 34.2L442.9 36.8L443.9 39.3L443.9 79L442.9 80.4L442 81.8L441.6 83.3L441.5 84.7L441.6 86.2L441.9 87.6L442.4 89L443 90.4L443.6 91.7L444.4 93L445.3 94.2L446.3 95.3L447.4 96.2L448.6 97.1L449.9 97.8L451.3 98.2L453.1 98.1L454.5 98.2L489.2 118.6L490.7 120.3L492.5 122.4L493.9 123.7L495.2 124.5L496.4 125.1L497.5 125.4L498.5 125.4L499.3 125.3L500.1 125L500.8 124.5L501.4 123.8L501.8 122.9L502.1 121.8L502.3 120.5L502.2 119L501.8 117.1L500.9 114.5L499.9 112Z" fill="#fff" stroke="none" stroke-width="0"/>
<path d="M499.1 72.7L500.1 71.3L501 69.9L501.4 68.4L501.5 67L501.4 65.5L501.1 64.1L500.6 62.7L500.1 61.3L499.4 60L498.6 58.7L497.7 57.5L496.7 56.4L495.6 55.5L494.4 54.6L493.1 53.9L491.7 53.5L489.9 53.6L488.1 54L454.1 34L452.3 31.4L450.6 29.3L449.1 28L447.8 27.2L446.6 26.6L445.5 26.3L444.6 26.3L443.7 26.4L442.9 26.7L442.2 27.2L441.6 27.9L441.2 28.8L440.9 29.9L440.7 31.2L440.8 32.7L441.2 34.6L442.1 37.2L443.1 39.7L443.1 79.5L442.1 80.8L441.2 82.3L440.8 83.7L440.7 85.2L440.9 86.6L441.2 88.1L441.6 89.5L442.2 90.8L442.9 92.2L443.7 93.4L444.6 94.6L445.5 95.7L446.6 96.7L447.8 97.5L449.1 98.2L450.6 98.6L452.3 98.6L453.8 98.6L488.5 119.1L489.9 120.7L491.7 122.8L493.1 124.1L494.4 125L495.6 125.5L496.7 125.8L497.7 125.9L498.6 125.8L499.4 125.4L500.1 124.9L500.6 124.2L501.1 123.3L501.4 122.3L501.5 121L501.4 119.4L501 117.5L500.1 115L499.1 112.5Z" fill="#fff" stroke="none" stroke-width="0"/>
<path d="M498.4 73.1L499.3 71.8L500.3 70.3L500.6 68.9L500.7 67.4L500.6 66L500.3 64.5L499.9 63.1L499.3 61.8L498.6 60.4L497.8 59.2L496.9 58L495.9 56.9L494.8 55.9L493.7 55.1L492.4 54.4L490.9 54L489.2 54L487.3 54.4L453.4 34.4L451.5 31.9L449.8 29.8L448.3 28.5L447 27.6L445.9 27.1L444.8 26.8L443.8 26.7L442.9 26.8L442.1 27.2L441.4 27.7L440.9 28.4L440.4 29.3L440.1 30.3L440 31.6L440.1 33.2L440.4 35.1L441.4 37.6L442.3 40.1L442.3 79.9L441.4 81.3L440.4 82.7L440.1 84.2L440 85.6L440.1 87.1L440.4 88.5L440.9 89.9L441.4 91.3L442.1 92.6L442.9 93.9L443.8 95.1L444.8 96.2L445.9 97.1L447 98L448.3 98.7L449.8 99.1L451.5 99L453 99.1L487.7 119.5L489.2 121.2L490.9 123.3L492.4 124.6L493.7 125.4L494.8 126L495.9 126.3L496.9 126.3L497.8 126.2L498.6 125.9L499.3 125.4L499.9 124.7L500.3 123.8L500.6 122.7L500.7 121.4L500.6 119.9L500.3 118L499.3 115.4L498.4 112.9Z" fill="#fff" stroke="none" stroke-width="0"/>
<path d="M497.6 73.6L498.6 72.2L499.5 70.8L499.9 69.3L500 67.9L499.8 66.4L499.5 65L499.1 63.6L498.5 62.2L497.8 60.9L497 59.6L496.2 58.4L495.2 57.3L494.1 56.4L492.9 55.5L491.6 54.8L490.2 54.4L488.4 54.5L486.6 54.9L452.6 34.9L450.8 32.3L449 30.2L447.6 28.9L446.3 28.1L445.1 27.5L444 27.2L443 27.2L442.1 27.3L441.3 27.6L440.7 28.1L440.1 28.8L439.6 29.7L439.3 30.8L439.2 32.1L439.3 33.6L439.7 35.5L440.6 38.1L441.6 40.6L441.6 80.4L440.6 81.7L439.7 83.2L439.3 84.6L439.2 86.1L439.3 87.5L439.6 89L440.1 90.4L440.7 91.7L441.3 93.1L442.1 94.3L443 95.5L444 96.6L445.1 97.6L446.3 98.4L447.6 99.1L449 99.5L450.8 99.5L452.2 99.5L486.9 120L488.4 121.6L490.2 123.7L491.6 125L492.9 125.9L494.1 126.4L495.2 126.7L496.2 126.8L497 126.6L497.8 126.3L498.5 125.8L499.1 125.1L499.5 124.2L499.8 123.1L500 121.8L499.9 120.3L499.5 118.4L498.6 115.8L497.6 113.3Z" fill="#fff" stroke="none" stroke-width="0"/>
<path d="M496.8 74L497.8 72.7L498.7 71.2L499.1 69.8L499.2 68.3L499.1 66.8L498.8 65.4L498.3 64L497.8 62.6L497.1 61.3L496.3 60.1L495.4 58.9L494.4 57.8L493.3 56.8L492.1 55.9L490.8 55.3L489.4 54.9L487.6 54.9L485.8 55.3L451.8 35.3L450 32.7L448.3 30.6L446.8 29.4L445.5 28.5L444.3 28L443.2 27.7L442.3 27.6L441.4 27.7L440.6 28.1L439.9 28.6L439.3 29.3L438.9 30.2L438.6 31.2L438.4 32.5L438.5 34.1L438.9 36L439.8 38.5L440.8 41L440.8 80.8L439.8 82.2L438.9 83.6L438.5 85.1L438.4 86.5L438.6 88L438.9 89.4L439.3 90.8L439.9 92.2L440.6 93.5L441.4 94.8L442.3 95.9L443.2 97L444.3 98L445.5 98.9L446.8 99.5L448.3 100L450 99.9L451.5 100L486.2 120.4L487.6 122.1L489.4 124.2L490.8 125.5L492.1 126.3L493.3 126.9L494.4 127.2L495.4 127.2L496.3 127.1L497.1 126.8L497.8 126.2L498.3 125.6L498.8 124.7L499.1 123.6L499.2 122.3L499.1 120.7L498.7 118.9L497.8 116.3L496.8 113.8Z" fill="#fff" stroke="none" stroke-width="0"/>
<path d="M496.1 74.5L497 73.1L498 71.7L498.3 70.2L498.4 68.7L498.3 67.3L498 65.9L497.6 64.5L497 63.1L496.3 61.8L495.5 60.5L494.6 59.3L493.6 58.2L492.5 57.2L491.4 56.4L490.1 55.7L488.6 55.3L486.9 55.4L485 55.7L451.1 35.7L449.2 33.2L447.5 31.1L446 29.8L444.7 29L443.6 28.4L442.5 28.1L441.5 28L440.6 28.2L439.8 28.5L439.1 29L438.6 29.7L438.1 30.6L437.8 31.7L437.7 33L437.8 34.5L438.1 36.4L439.1 39L440 41.5L440 81.3L439.1 82.6L438.1 84.1L437.8 85.5L437.7 87L437.8 88.4L438.1 89.9L438.6 91.3L439.1 92.6L439.8 93.9L440.6 95.2L441.5 96.4L442.5 97.5L443.6 98.5L444.7 99.3L446 100L447.5 100.4L449.2 100.4L450.7 100.4L485.4 120.8L486.9 122.5L488.6 124.6L490.1 125.9L491.4 126.8L492.5 127.3L493.6 127.6L494.6 127.7L495.5 127.5L496.3 127.2L497 126.7L497.6 126L498 125.1L498.3 124L498.4 122.7L498.3 121.2L498 119.3L497 116.7L496.1 114.2Z" fill="#fff" stroke="none" stroke-width="0"/>
<path d="M495.3 74.9L496.3 73.6L497.2 72.1L497.6 70.6L497.7 69.2L497.5 67.7L497.2 66.3L496.8 64.9L496.2 63.5L495.5 62.2L494.7 61L493.8 59.8L492.9 58.7L491.8 57.7L490.6 56.8L489.3 56.2L487.9 55.7L486.1 55.8L484.3 56.2L450.3 36.2L448.5 33.6L446.7 31.5L445.3 30.3L444 29.4L442.8 28.9L441.7 28.6L440.7 28.5L439.8 28.6L439 29L438.4 29.5L437.8 30.2L437.3 31L437 32.1L436.9 33.4L437 35L437.4 36.9L438.3 39.4L439.3 41.9L439.3 81.7L438.3 83L437.4 84.5L437 86L436.9 87.4L437 88.9L437.3 90.3L437.8 91.7L438.4 93.1L439 94.4L439.8 95.7L440.7 96.8L441.7 97.9L442.8 98.9L444 99.8L445.3 100.4L446.7 100.9L448.5 100.8L449.9 100.9L484.6 121.3L486.1 123L487.9 125.1L489.3 126.4L490.6 127.2L491.8 127.8L492.9 128L493.8 128.1L494.7 128L495.5 127.7L496.2 127.1L496.8 126.4L497.2 125.6L497.5 124.5L497.7 123.2L497.6 121.6L497.2 119.7L496.3 117.2L495.3 114.7Z" fill="#fff" stroke="none" stroke-width="0"/>
<path d="M494.5 75.4L495.5 74L496.4 72.5L496.8 71.1L496.9 69.6L496.8 68.2L496.5 66.8L496 65.3L495.5 64L494.8 62.7L494 61.4L493.1 60.2L492.1 59.1L491 58.1L489.8 57.3L488.5 56.6L487.1 56.2L485.3 56.3L483.5 56.6L449.5 36.6L447.7 34.1L446 32L444.5 30.7L443.2 29.8L442 29.3L440.9 29L440 28.9L439.1 29.1L438.3 29.4L437.6 29.9L437 30.6L436.6 31.5L436.3 32.6L436.1 33.9L436.2 35.4L436.6 37.3L437.5 39.9L438.5 42.4L438.5 82.1L437.5 83.5L436.6 85L436.2 86.4L436.1 87.9L436.3 89.3L436.6 90.7L437 92.2L437.6 93.5L438.3 94.8L439.1 96.1L440 97.3L440.9 98.4L442 99.4L443.2 100.2L444.5 100.9L446 101.3L447.7 101.2L449.2 101.3L483.9 121.7L485.3 123.4L487.1 125.5L488.5 126.8L489.8 127.7L491 128.2L492.1 128.5L493.1 128.6L494 128.4L494.8 128.1L495.5 127.6L496 126.9L496.5 126L496.8 124.9L496.9 123.6L496.8 122.1L496.4 120.2L495.5 117.6L494.5 115.1Z" fill="#fff" stroke="none" stroke-width="0"/>
<path d="M493.8 75.8L494.7 74.5L495.7 73L496 71.5L496.1 70.1L496 68.6L495.7 67.2L495.3 65.8L494.7 64.4L494 63.1L493.2 61.8L492.3 60.7L491.3 59.6L490.2 58.6L489.1 57.7L487.8 57.1L486.3 56.6L484.6 56.7L482.7 57.1L448.8 37.1L446.9 34.5L445.2 32.4L443.7 31.1L442.4 30.3L441.3 29.7L440.2 29.5L439.2 29.4L438.3 29.5L437.5 29.8L436.8 30.4L436.3 31.1L435.8 31.9L435.5 33L435.4 34.3L435.5 35.9L435.8 37.8L436.8 40.3L437.7 42.8L437.7 82.6L436.8 83.9L435.8 85.4L435.5 86.9L435.4 88.3L435.5 89.8L435.8 91.2L436.3 92.6L436.8 94L437.5 95.3L438.3 96.5L439.2 97.7L440.2 98.8L441.3 99.8L442.4 100.7L443.7 101.3L445.2 101.7L446.9 101.7L448.4 101.8L483.1 122.2L484.6 123.9L486.3 126L487.8 127.2L489.1 128.1L490.2 128.6L491.3 128.9L492.3 129L493.2 128.9L494 128.5L494.7 128L495.3 127.3L495.7 126.4L496 125.4L496.1 124.1L496 122.5L495.7 120.6L494.7 118.1L493.8 115.6Z" fill="#fff" stroke="none" stroke-width="0"/>
<path d="M493 76.2L494 74.9L494.9 73.4L495.3 72L495.4 70.5L495.2 69.1L494.9 67.6L494.5 66.2L493.9 64.9L493.2 63.5L492.4 62.3L491.5 61.1L490.6 60L489.5 59L488.3 58.2L487 57.5L485.5 57.1L483.8 57.1L482 57.5L448 37.5L446.2 35L444.4 32.9L443 31.6L441.7 30.7L440.5 30.2L439.4 29.9L438.4 29.8L437.5 30L436.7 30.3L436.1 30.8L435.5 31.5L435 32.4L434.7 33.5L434.6 34.8L434.7 36.3L435.1 38.2L436 40.8L437 43.3L437 83L436 84.4L435.1 85.8L434.7 87.3L434.6 88.8L434.7 90.2L435 91.6L435.5 93L436.1 94.4L436.7 95.7L437.5 97L438.4 98.2L439.4 99.3L440.5 100.3L441.7 101.1L443 101.8L444.4 102.2L446.2 102.1L447.6 102.2L482.3 122.6L483.8 124.3L485.5 126.4L487 127.7L488.3 128.5L489.5 129.1L490.6 129.4L491.5 129.5L492.4 129.3L493.2 129L493.9 128.5L494.5 127.8L494.9 126.9L495.2 125.8L495.4 124.5L495.3 123L494.9 121.1L494 118.5L493 116Z" fill="#fff" stroke="none" stroke-width="0"/>
<path d="M492.2 76.7L493.2 75.3L494.1 73.9L494.5 72.4L494.6 71L494.5 69.5L494.2 68.1L493.7 66.7L493.1 65.3L492.5 64L491.7 62.7L490.8 61.5L489.8 60.5L488.7 59.5L487.5 58.6L486.2 57.9L484.8 57.5L483 57.6L481.2 58L447.2 38L445.4 35.4L443.7 33.3L442.2 32L440.9 31.2L439.7 30.6L438.6 30.3L437.7 30.3L436.8 30.4L436 30.7L435.3 31.2L434.7 31.9L434.3 32.8L434 33.9L433.8 35.2L433.9 36.8L434.3 38.6L435.2 41.2L436.2 43.7L436.2 83.5L435.2 84.8L434.3 86.3L433.9 87.7L433.8 89.2L434 90.6L434.3 92.1L434.7 93.5L435.3 94.9L436 96.2L436.8 97.4L437.7 98.6L438.6 99.7L439.7 100.7L440.9 101.5L442.2 102.2L443.7 102.6L445.4 102.6L446.9 102.7L481.6 123.1L483 124.7L484.8 126.9L486.2 128.1L487.5 129L488.7 129.5L489.8 129.8L490.8 129.9L491.7 129.8L492.5 129.4L493.1 128.9L493.7 128.2L494.2 127.3L494.5 126.3L494.6 125L494.5 123.4L494.1 121.5L493.2 119L492.2 116.5Z" fill="#fff" stroke="none" stroke-width="0"/>
<path d="M491.5 77.1L492.4 75.8L493.4 74.3L493.7 72.9L493.8 71.4L493.7 70L493.4 68.5L493 67.1L492.4 65.8L491.7 64.4L490.9 63.2L490 62L489 60.9L487.9 59.9L486.8 59.1L485.5 58.4L484 58L482.3 58L480.4 58.4L446.5 38.4L444.6 35.9L442.9 33.8L441.4 32.5L440.1 31.6L439 31.1L437.9 30.8L436.9 30.7L436 30.9L435.2 31.2L434.5 31.7L434 32.4L433.5 33.3L433.2 34.4L433.1 35.6L433.2 37.2L433.5 39.1L434.5 41.7L435.4 44.2L435.4 83.9L434.5 85.3L433.5 86.7L433.2 88.2L433.1 89.6L433.2 91.1L433.5 92.5L434 93.9L434.5 95.3L435.2 96.6L436 97.9L436.9 99.1L437.9 100.2L439 101.1L440.1 102L441.4 102.7L442.9 103.1L444.6 103L446.1 103.1L480.8 123.5L482.3 125.2L484 127.3L485.5 128.6L486.8 129.4L487.9 130L489 130.3L490 130.3L490.9 130.2L491.7 129.9L492.4 129.4L493 128.7L493.4 127.8L493.7 126.7L493.8 125.4L493.7 123.9L493.4 122L492.4 119.4L491.5 116.9Z" fill="#fff" stroke="none" stroke-width="0"/>
<path d="M490.7 77.6L491.7 76.2L492.6 74.8L493 73.3L493.1 71.9L492.9 70.4L492.6 69L492.2 67.6L491.6 66.2L490.9 64.9L490.1 63.6L489.2 62.4L488.3 61.3L487.2 60.4L486 59.5L484.7 58.8L483.2 58.4L481.5 58.5L479.7 58.9L445.7 38.9L443.9 36.3L442.1 34.2L440.7 32.9L439.4 32.1L438.2 31.5L437.1 31.2L436.1 31.2L435.2 31.3L434.4 31.6L433.8 32.1L433.2 32.8L432.7 33.7L432.4 34.8L432.3 36.1L432.4 37.6L432.8 39.5L433.7 42.1L434.7 44.6L434.7 84.4L433.7 85.7L432.8 87.2L432.4 88.6L432.3 90.1L432.4 91.5L432.7 93L433.2 94.4L433.8 95.7L434.4 97.1L435.2 98.3L436.1 99.5L437.1 100.6L438.2 101.6L439.4 102.4L440.7 103.1L442.1 103.5L443.9 103.5L445.3 103.5L480 124L481.5 125.6L483.2 127.7L484.7 129L486 129.9L487.2 130.4L488.3 130.7L489.2 130.8L490.1 130.7L490.9 130.3L491.6 129.8L492.2 129.1L492.6 128.2L492.9 127.1L493.1 125.9L493 124.3L492.6 122.4L491.7 119.8L490.7 117.3Z" fill="#fff" stroke="none" stroke-width="0"/>
<path d="M489.9 78L490.9 76.7L491.8 75.2L492.2 73.8L492.3 72.3L492.2 70.9L491.9 69.4L491.4 68L490.8 66.6L490.2 65.3L489.4 64.1L488.5 62.9L487.5 61.8L486.4 60.8L485.2 60L483.9 59.3L482.5 58.9L480.7 58.9L478.9 59.3L444.9 39.3L443.1 36.8L441.4 34.7L439.9 33.4L438.6 32.5L437.4 32L436.3 31.7L435.4 31.6L434.5 31.7L433.7 32.1L433 32.6L432.4 33.3L432 34.2L431.7 35.2L431.5 36.5L431.6 38.1L432 40L432.9 42.5L433.9 45L433.9 84.8L432.9 86.2L432 87.6L431.6 89.1L431.5 90.5L431.7 92L432 93.4L432.4 94.8L433 96.2L433.7 97.5L434.5 98.8L435.4 100L436.3 101.1L437.4 102L438.6 102.9L439.9 103.6L441.4 104L443.1 103.9L444.6 104L479.3 124.4L480.7 126.1L482.5 128.2L483.9 129.5L485.2 130.3L486.4 130.9L487.5 131.2L488.5 131.2L489.4 131.1L490.2 130.8L490.8 130.3L491.4 129.6L491.9 128.7L492.2 127.6L492.3 126.3L492.2 124.8L491.8 122.9L490.9 120.3L489.9 117.8Z" fill="#fff" stroke="none" stroke-width="0"/>
<path d="M489.2 78.5L490.1 77.1L491.1 75.7L491.4 74.2L491.5 72.7L491.4 71.3L491.1 69.9L490.7 68.5L490.1 67.1L489.4 65.8L488.6 64.5L487.7 63.3L486.7 62.2L485.6 61.2L484.5 60.4L483.2 59.7L481.7 59.3L480 59.4L478.1 59.8L444.2 39.8L442.3 37.2L440.6 35.1L439.1 33.8L437.8 33L436.7 32.4L435.6 32.1L434.6 32.1L433.7 32.2L432.9 32.5L432.2 33L431.7 33.7L431.2 34.6L430.9 35.7L430.8 37L430.9 38.5L431.2 40.4L432.2 43L433.1 45.5L433.1 85.3L432.2 86.6L431.2 88.1L430.9 89.5L430.8 91L430.9 92.4L431.2 93.9L431.7 95.3L432.2 96.6L432.9 98L433.7 99.2L434.6 100.4L435.6 101.5L436.7 102.5L437.8 103.3L439.1 104L440.6 104.4L442.3 104.4L443.8 104.4L478.5 124.9L480 126.5L481.7 128.6L483.2 129.9L484.5 130.8L485.6 131.3L486.7 131.6L487.7 131.7L488.6 131.5L489.4 131.2L490.1 130.7L490.7 130L491.1 129.1L491.4 128L491.5 126.7L491.4 125.2L491.1 123.3L490.1 120.7L489.2 118.2Z" fill="#fff" stroke="none" stroke-width="0"/>
<path d="M488.4 78.9L489.4 77.6L490.3 76.1L490.7 74.6L490.8 73.2L490.6 71.7L490.3 70.3L489.9 68.9L489.3 67.5L488.6 66.2L487.8 65L486.9 63.8L486 62.7L484.9 61.7L483.7 60.8L482.4 60.2L480.9 59.8L479.2 59.8L477.4 60.2L443.4 40.2L441.6 37.6L439.8 35.5L438.4 34.3L437.1 33.4L435.9 32.9L434.8 32.6L433.8 32.5L432.9 32.6L432.1 33L431.5 33.5L430.9 34.2L430.4 35.1L430.1 36.1L430 37.4L430.1 39L430.5 40.9L431.4 43.4L432.4 45.9L432.4 85.7L431.4 87.1L430.5 88.5L430.1 90L430 91.4L430.1 92.9L430.4 94.3L430.9 95.7L431.5 97.1L432.1 98.4L432.9 99.7L433.8 100.8L434.8 101.9L435.9 102.9L437.1 103.8L438.4 104.4L439.8 104.9L441.6 104.8L443 104.9L477.7 125.3L479.2 127L480.9 129.1L482.4 130.4L483.7 131.2L484.9 131.8L486 132.1L486.9 132.1L487.8 132L488.6 131.7L489.3 131.1L489.9 130.4L490.3 129.6L490.6 128.5L490.8 127.2L490.7 125.6L490.3 123.7L489.4 121.2L488.4 118.7Z" fill="#fff" stroke="none" stroke-width="0"/>
<path d="M487.6 79.4L488.6 78L489.5 76.5L489.9 75.1L490 73.6L489.9 72.2L489.6 70.8L489.1 69.4L488.5 68L487.9 66.7L487.1 65.4L486.2 64.2L485.2 63.1L484.1 62.1L482.9 61.3L481.6 60.6L480.2 60.2L478.4 60.3L476.6 60.6L442.6 40.6L440.8 38.1L439.1 36L437.6 34.7L436.3 33.8L435.1 33.3L434 33L433.1 32.9L432.2 33.1L431.4 33.4L430.7 33.9L430.1 34.6L429.7 35.5L429.4 36.6L429.2 37.9L429.3 39.4L429.7 41.3L430.6 43.9L431.6 46.4L431.6 86.1L430.6 87.5L429.7 89L429.3 90.4L429.2 91.9L429.4 93.3L429.7 94.8L430.1 96.2L430.7 97.5L431.4 98.8L432.2 100.1L433.1 101.3L434 102.4L435.1 103.4L436.3 104.2L437.6 104.9L439.1 105.3L440.8 105.3L442.3 105.3L477 125.7L478.4 127.4L480.2 129.5L481.6 130.8L482.9 131.7L484.1 132.2L485.2 132.5L486.2 132.6L487.1 132.4L487.9 132.1L488.5 131.6L489.1 130.9L489.6 130L489.9 128.9L490 127.6L489.9 126.1L489.5 124.2L488.6 121.6L487.6 119.1Z" fill="#fff" stroke="none" stroke-width="0"/>
<path d="M444.4 25.8L430.6 33.9" fill="none" stroke="#4d4d4d" stroke-width="0.7"/>
<path d="M500.9 124.5L487.1 132.5" fill="none" stroke="#4d4d4d" stroke-width="0.7"/>
<path d="M486.9 79.8L487.8 78.5L488.8 77L489.1 75.5L489.2 74.1L489.1 72.6L488.8 71.2L488.4 69.8L487.8 68.4L487.1 67.1L486.3 65.8L485.4 64.7L484.4 63.6L483.3 62.6L482.2 61.7L480.9 61.1L479.4 60.6L477.7 60.7L475.8 61.1L441.9 41.1L440 38.5L438.3 36.4L436.8 35.1L435.5 34.3L434.4 33.7L433.3 33.5L432.3 33.4L431.4 33.5L430.6 33.9L429.9 34.4L429.3 35.1L428.9 35.9L428.6 37L428.5 38.3L428.6 39.9L428.9 41.8L429.9 44.3L430.8 46.8L430.8 86.6L429.9 87.9L428.9 89.4L428.6 90.9L428.5 92.3L428.6 93.8L428.9 95.2L429.3 96.6L429.9 98L430.6 99.3L431.4 100.6L432.3 101.7L433.3 102.8L434.4 103.8L435.5 104.7L436.8 105.3L438.3 105.8L440 105.7L441.5 105.8L476.2 126.2L477.7 127.9L479.4 130L480.9 131.3L482.2 132.1L483.3 132.7L484.4 132.9L485.4 133L486.3 132.9L487.1 132.5L487.8 132L488.4 131.3L488.8 130.5L489.1 129.4L489.2 128.1L489.1 126.5L488.8 124.6L487.8 122.1L486.9 119.6Z" fill="#fff" stroke="#4d4d4d" stroke-width="0.7"/>
<path d="M487.4 76.9L500.8 69.8" fill="none" stroke="#4d4d4d" stroke-width="0.6"/>
<path d="M487.4 81.8L500.8 74.7" fill="none" stroke="#4d4d4d" stroke-width="0.6"/>
<path d="M492.8 80.9L502.5 90.7" fill="none" stroke="#4d4d4d" stroke-width="0.6"/>
<path d="M496.5 78.8L503.2 86" fill="none" stroke="#4d4d4d" stroke-width="0.6"/>
<path d="M489 84.5L498 94" fill="none" stroke="#4d4d4d" stroke-width="0.6"/>
<path d="M508.6 104.8L508.4 103.8L508.1 102.8L507.7 101.7L507.3 100.7L506.8 99.6L506.3 98.5L505.8 97.4L505.2 96.4L504.6 95.3L504 94.2L503 93.1L501.4 91.7L493.4 88.4L493.4 76.4L493.7 75.6L494.4 74.7L495 73.7L495.4 72.7L495.7 71.7L495.7 70.8L495.7 69.8L495.6 68.8L495.4 67.9L495.2 66.9L494.9 66L494.5 65.1L494.1 64.2L493.6 63.3L493.1 62.5L492.6 61.7L492 60.9L491.3 60.1L490.6 59.4L489.9 58.8L489.1 58.2L488.3 57.7L487.4 57.3L486.4 57L485.4 56.9L484.2 56.9L483 57.2L482.1 57.1L448.7 37.5L447.8 36.5L446.6 34.7L445.4 33.4L444.4 32.2L443.4 31.3L442.5 30.8L441.7 30.3L440.9 29.9L440.2 29.8L439.5 29.6L438.8 29.6L438.2 29.7L437.7 29.8L437.2 30L436.7 30.4L436.3 30.8L435.9 31.3L435.6 31.9L435.4 32.5L435.2 33.2L435.1 34.1L435.1 35L435.1 36.1L435.4 37.3L435.8 38.8L436.4 40.5L437.1 42.2L437.4 43.4L437.4 82.4L437.1 83.2L436.4 84.1L435.8 85.1L435.4 86.1L435.1 87.1L435.1 88L435.1 89L435.2 90L435.4 90.9L435.6 91.9L435.9 92.8L436.3 93.7L436.7 94.6L437.2 95.5L437.7 96.3L438.2 97.1L438.8 97.9L439.5 98.7L440.2 99.4L440.9 100L441.7 100.6L442.5 101.1L443.4 101.5L444.4 101.8L445.4 101.9L446.6 101.9L447.6 101.9L448.4 102.2L482.4 122.2L483.2 122.9L484.2 124.1L485.4 125.4L486.4 126.6L487.4 127.5L488.3 128L489.1 128.5L489.9 128.9L490.6 129L491.3 129.2L492 129.2L492.6 129.1L493.1 129L493.6 128.7L494.1 128.4L494.5 128L494.9 127.5L495.2 127L495.8 126.8L497.4 126.2L498.4 125.6L498.9 125.3L499.4 125L499.9 124.7L500.3 124.3L500.8 123.9L501.6 123L502.3 122L505.5 117.2L506.1 116L506.9 114.1L507.4 112.7L507.6 112L507.8 111.3L508 110.5L508.5 108.2L508.6 107.4L508.7 106.6L508.7 105.8Z" fill="#fff" stroke="#4d4d4d" stroke-width="0.7"/>
<path d="M507.9 105.3L507.7 104.3L507.4 103.2L507 102.2L506.6 101.1L506.1 100L505.6 98.9L505.1 97.9L504.5 96.8L503.9 95.7L503.2 94.6L502.3 93.5L500.6 92.1L492.7 88.8L492.7 76.8L493 76L493.7 75.1L494.3 74.1L494.7 73.1L495 72.2L495 71.2L495 70.2L494.9 69.3L494.7 68.3L494.5 67.4L494.2 66.4L493.8 65.5L493.4 64.6L492.9 63.7L492.4 62.9L491.8 62.1L491.2 61.3L490.6 60.6L489.9 59.9L489.2 59.2L488.4 58.6L487.5 58.1L486.7 57.7L485.7 57.4L484.6 57.3L483.5 57.3L482.2 57.6L481.3 57.5L448 37.9L447.1 36.9L445.8 35.2L444.7 33.8L443.6 32.6L442.7 31.8L441.8 31.2L441 30.7L440.2 30.4L439.5 30.2L438.8 30.1L438.1 30L437.5 30.1L437 30.3L436.4 30.5L436 30.8L435.6 31.2L435.2 31.7L434.9 32.3L434.6 32.9L434.4 33.6L434.3 34.5L434.3 35.5L434.4 36.5L434.6 37.8L435.1 39.3L435.7 40.9L436.3 42.6L436.7 43.8L436.7 82.8L436.3 83.6L435.7 84.6L435.1 85.5L434.6 86.5L434.4 87.5L434.3 88.4L434.3 89.4L434.4 90.4L434.6 91.3L434.9 92.3L435.2 93.2L435.6 94.1L436 95L436.4 95.9L437 96.8L437.5 97.6L438.1 98.4L438.8 99.1L439.5 99.8L440.2 100.4L441 101L441.8 101.5L442.7 102L443.6 102.2L444.7 102.4L445.8 102.3L446.8 102.4L447.7 102.6L481.7 122.6L482.5 123.4L483.5 124.5L484.6 125.9L485.7 127L486.7 127.9L487.5 128.4L488.4 128.9L489.2 129.3L489.9 129.5L490.6 129.6L491.2 129.6L491.8 129.5L492.4 129.4L492.9 129.2L493.4 128.8L493.8 128.4L494.2 128L494.5 127.4L495.1 127.2L496.7 126.6L497.7 126.1L498.2 125.8L498.7 125.4L499.2 125.1L499.6 124.7L500 124.3L500.8 123.4L501.6 122.4L504.7 117.6L505.3 116.4L506.2 114.5L506.7 113.1L506.9 112.4L507.1 111.7L507.3 111L507.7 108.7L507.9 107.9L507.9 107L507.9 106.2Z" fill="#fff" stroke="none" stroke-width="0"/>
<path d="M507.1 105.7L506.9 104.7L506.6 103.7L506.3 102.6L505.8 101.5L505.4 100.4L504.9 99.4L504.3 98.3L503.8 97.2L503.2 96.1L502.5 95.1L501.6 93.9L499.9 92.6L492 89.2L492 77.2L492.3 76.4L492.9 75.5L493.5 74.5L494 73.6L494.2 72.6L494.3 71.6L494.3 70.6L494.2 69.7L494 68.7L493.7 67.8L493.4 66.8L493.1 65.9L492.6 65L492.2 64.2L491.7 63.3L491.1 62.5L490.5 61.7L489.8 61L489.2 60.3L488.4 59.6L487.6 59.1L486.8 58.6L486 58.1L485 57.8L483.9 57.7L482.8 57.7L481.5 58L480.6 57.9L447.3 38.3L446.4 37.3L445.1 35.6L444 34.2L442.9 33.1L441.9 32.2L441.1 31.6L440.2 31.2L439.5 30.8L438.7 30.6L438 30.5L437.4 30.4L436.8 30.5L436.2 30.7L435.7 30.9L435.2 31.2L434.8 31.6L434.4 32.1L434.1 32.7L433.9 33.4L433.7 34.1L433.6 34.9L433.6 35.9L433.6 36.9L433.9 38.2L434.3 39.7L435 41.4L435.6 43.1L435.9 44.3L435.9 83.2L435.6 84.1L435 85L434.3 85.9L433.9 86.9L433.6 87.9L433.6 88.9L433.6 89.8L433.7 90.8L433.9 91.8L434.1 92.7L434.4 93.6L434.8 94.6L435.2 95.5L435.7 96.3L436.2 97.2L436.8 98L437.4 98.8L438 99.5L438.7 100.2L439.5 100.9L440.2 101.4L441.1 101.9L441.9 102.4L442.9 102.7L444 102.8L445.1 102.7L446.1 102.8L446.9 103L480.9 123L481.8 123.8L482.8 124.9L483.9 126.3L485 127.4L486 128.3L486.8 128.9L487.6 129.3L488.4 129.7L489.2 129.9L489.8 130L490.5 130.1L491.1 130L491.7 129.8L492.2 129.6L492.6 129.3L493.1 128.8L493.4 128.4L493.8 127.8L494.3 127.7L495.9 127L497 126.5L497.5 126.2L498 125.9L498.4 125.5L498.9 125.1L499.3 124.7L500.1 123.8L500.9 122.9L504 118L504.6 116.8L505.4 114.9L505.9 113.5L506.2 112.8L506.4 112.1L506.5 111.4L507 109.1L507.1 108.3L507.2 107.5L507.2 106.6Z" fill="#fff" stroke="none" stroke-width="0"/>
<path d="M506.4 106.1L506.2 105.1L505.9 104.1L505.5 103L505.1 101.9L504.6 100.9L504.1 99.8L503.6 98.7L503.1 97.6L502.5 96.6L501.8 95.5L500.8 94.3L499.2 93L491.2 89.7L491.2 77.7L491.5 76.8L492.2 75.9L492.8 75L493.3 74L493.5 73L493.6 72L493.5 71.1L493.5 70.1L493.3 69.2L493 68.2L492.7 67.3L492.3 66.4L491.9 65.5L491.5 64.6L490.9 63.7L490.4 62.9L489.8 62.1L489.1 61.4L488.4 60.7L487.7 60.1L486.9 59.5L486.1 59L485.2 58.5L484.3 58.2L483.2 58.1L482 58.2L480.8 58.4L479.9 58.4L446.6 38.7L445.6 37.7L444.4 36L443.3 34.6L442.2 33.5L441.2 32.6L440.3 32L439.5 31.6L438.7 31.2L438 31L437.3 30.9L436.7 30.9L436.1 30.9L435.5 31.1L435 31.3L434.5 31.7L434.1 32.1L433.7 32.5L433.4 33.1L433.2 33.8L433 34.5L432.9 35.4L432.9 36.3L432.9 37.3L433.2 38.6L433.6 40.1L434.2 41.8L434.9 43.5L435.2 44.7L435.2 83.7L434.9 84.5L434.2 85.4L433.6 86.4L433.2 87.3L432.9 88.3L432.9 89.3L432.9 90.3L433 91.2L433.2 92.2L433.4 93.1L433.7 94.1L434.1 95L434.5 95.9L435 96.8L435.5 97.6L436.1 98.4L436.7 99.2L437.3 99.9L438 100.6L438.7 101.3L439.5 101.9L440.3 102.4L441.2 102.8L442.2 103.1L443.3 103.2L444.4 103.2L445.4 103.2L446.2 103.4L480.2 123.5L481 124.2L482 125.3L483.2 126.7L484.3 127.9L485.2 128.7L486.1 129.3L486.9 129.8L487.7 130.1L488.4 130.3L489.1 130.4L489.8 130.5L490.4 130.4L490.9 130.2L491.5 130L491.9 129.7L492.3 129.3L492.7 128.8L493 128.3L493.6 128.1L495.2 127.4L496.3 126.9L496.8 126.6L497.2 126.3L497.7 125.9L498.1 125.5L498.6 125.1L499.4 124.2L500.2 123.3L503.3 118.4L503.9 117.2L504.7 115.3L505.2 114L505.4 113.3L505.6 112.5L505.8 111.8L506.3 109.5L506.4 108.7L506.5 107.9L506.5 107Z" fill="#fff" stroke="none" stroke-width="0"/>
<path d="M505.7 106.5L505.5 105.5L505.2 104.5L504.8 103.4L504.4 102.4L503.9 101.3L503.4 100.2L502.9 99.1L502.3 98.1L501.7 97L501 95.9L500.1 94.8L498.5 93.4L490.5 90.1L490.5 78.1L490.8 77.3L491.5 76.3L492.1 75.4L492.5 74.4L492.8 73.4L492.8 72.5L492.8 71.5L492.7 70.5L492.5 69.6L492.3 68.6L492 67.7L491.6 66.8L491.2 65.9L490.7 65L490.2 64.2L489.6 63.3L489.1 62.6L488.4 61.8L487.7 61.1L487 60.5L486.2 59.9L485.4 59.4L484.5 59L483.5 58.7L482.5 58.6L481.3 58.6L480.1 58.9L479.1 58.8L445.8 39.2L444.9 38.2L443.7 36.4L442.5 35L441.5 33.9L440.5 33L439.6 32.5L438.8 32L438 31.6L437.3 31.4L436.6 31.3L435.9 31.3L435.3 31.4L434.8 31.5L434.2 31.7L433.8 32.1L433.4 32.5L433 32.9L432.7 33.5L432.4 34.2L432.2 34.9L432.2 35.8L432.1 36.7L432.2 37.8L432.4 39L432.9 40.5L433.5 42.2L434.2 43.9L434.5 45.1L434.5 84.1L434.2 84.9L433.5 85.8L432.9 86.8L432.4 87.8L432.2 88.8L432.1 89.7L432.2 90.7L432.2 91.7L432.4 92.6L432.7 93.6L433 94.5L433.4 95.4L433.8 96.3L434.2 97.2L434.8 98L435.3 98.8L435.9 99.6L436.6 100.4L437.3 101.1L438 101.7L438.8 102.3L439.6 102.8L440.5 103.2L441.5 103.5L442.5 103.6L443.7 103.6L444.7 103.6L445.5 103.9L479.5 123.9L480.3 124.6L481.3 125.8L482.5 127.1L483.5 128.3L484.5 129.1L485.4 129.7L486.2 130.2L487 130.5L487.7 130.7L488.4 130.9L489.1 130.9L489.6 130.8L490.2 130.7L490.7 130.4L491.2 130.1L491.6 129.7L492 129.2L492.3 128.7L492.9 128.5L494.5 127.9L495.5 127.3L496 127L496.5 126.7L497 126.4L497.4 126L497.9 125.6L498.7 124.7L499.4 123.7L502.5 118.9L503.2 117.7L504 115.7L504.5 114.4L504.7 113.7L504.9 113L505.1 112.2L505.6 109.9L505.7 109.1L505.7 108.3L505.8 107.4Z" fill="#fff" stroke="none" stroke-width="0"/>
<path d="M505 106.9L504.8 106L504.5 104.9L504.1 103.9L503.6 102.8L503.2 101.7L502.7 100.6L502.2 99.5L501.6 98.5L501 97.4L500.3 96.3L499.4 95.2L497.7 93.8L489.8 90.5L489.8 78.5L490.1 77.7L490.7 76.8L491.4 75.8L491.8 74.8L492.1 73.8L492.1 72.9L492.1 71.9L492 70.9L491.8 70L491.6 69L491.3 68.1L490.9 67.2L490.5 66.3L490 65.4L489.5 64.6L488.9 63.8L488.3 63L487.7 62.2L487 61.5L486.3 60.9L485.5 60.3L484.6 59.8L483.8 59.4L482.8 59.1L481.7 59L480.6 59L479.3 59.3L478.4 59.2L445.1 39.6L444.2 38.6L442.9 36.8L441.8 35.5L440.7 34.3L439.8 33.5L438.9 32.9L438.1 32.4L437.3 32.1L436.6 31.9L435.9 31.7L435.2 31.7L434.6 31.8L434 31.9L433.5 32.2L433.1 32.5L432.6 32.9L432.3 33.4L432 34L431.7 34.6L431.5 35.3L431.4 36.2L431.4 37.2L431.5 38.2L431.7 39.5L432.2 41L432.8 42.6L433.4 44.3L433.8 45.5L433.8 84.5L433.4 85.3L432.8 86.3L432.2 87.2L431.7 88.2L431.5 89.2L431.4 90.1L431.4 91.1L431.5 92.1L431.7 93L432 94L432.3 94.9L432.6 95.8L433.1 96.7L433.5 97.6L434 98.4L434.6 99.3L435.2 100L435.9 100.8L436.6 101.5L437.3 102.1L438.1 102.7L438.9 103.2L439.8 103.6L440.7 103.9L441.8 104L442.9 104L443.9 104.1L444.8 104.3L478.8 124.3L479.6 125L480.6 126.2L481.7 127.6L482.8 128.7L483.8 129.6L484.6 130.1L485.5 130.6L486.3 131L487 131.2L487.7 131.3L488.3 131.3L488.9 131.2L489.5 131.1L490 130.9L490.5 130.5L490.9 130.1L491.3 129.6L491.6 129.1L492.1 128.9L493.8 128.3L494.8 127.8L495.3 127.5L495.8 127.1L496.3 126.8L496.7 126.4L497.1 126L497.9 125.1L498.7 124.1L501.8 119.3L502.4 118.1L503.3 116.2L503.7 114.8L504 114.1L504.2 113.4L504.4 112.6L504.8 110.4L504.9 109.6L505 108.7L505 107.9Z" fill="#fff" stroke="none" stroke-width="0"/>
<path d="M504.2 107.4L504 106.4L503.7 105.3L503.4 104.3L502.9 103.2L502.4 102.1L502 101L501.4 100L500.9 98.9L500.3 97.8L499.6 96.8L498.7 95.6L497 94.3L489 90.9L489 78.9L489.4 78.1L490 77.2L490.6 76.2L491.1 75.3L491.3 74.3L491.4 73.3L491.4 72.3L491.3 71.4L491.1 70.4L490.8 69.5L490.5 68.5L490.2 67.6L489.7 66.7L489.3 65.8L488.8 65L488.2 64.2L487.6 63.4L486.9 62.7L486.2 62L485.5 61.3L484.7 60.7L483.9 60.2L483 59.8L482.1 59.5L481 59.4L479.9 59.4L478.6 59.7L477.7 59.6L444.4 40L443.5 39L442.2 37.3L441.1 35.9L440 34.7L439 33.9L438.2 33.3L437.3 32.8L436.5 32.5L435.8 32.3L435.1 32.2L434.5 32.1L433.9 32.2L433.3 32.4L432.8 32.6L432.3 32.9L431.9 33.3L431.5 33.8L431.2 34.4L431 35L430.8 35.8L430.7 36.6L430.7 37.6L430.7 38.6L431 39.9L431.4 41.4L432 43.1L432.7 44.8L433 45.9L433 84.9L432.7 85.8L432 86.7L431.4 87.6L431 88.6L430.7 89.6L430.7 90.6L430.7 91.5L430.8 92.5L431 93.4L431.2 94.4L431.5 95.3L431.9 96.2L432.3 97.1L432.8 98L433.3 98.9L433.9 99.7L434.5 100.5L435.1 101.2L435.8 101.9L436.5 102.5L437.3 103.1L438.2 103.6L439 104.1L440 104.4L441.1 104.5L442.2 104.4L443.2 104.5L444 104.7L478 124.7L478.9 125.5L479.9 126.6L481 128L482.1 129.1L483 130L483.9 130.6L484.7 131L485.5 131.4L486.2 131.6L486.9 131.7L487.6 131.7L488.2 131.7L488.8 131.5L489.3 131.3L489.7 130.9L490.2 130.5L490.5 130.1L490.9 129.5L491.4 129.4L493 128.7L494.1 128.2L494.6 127.9L495.1 127.6L495.5 127.2L496 126.8L496.4 126.4L497.2 125.5L498 124.5L501.1 119.7L501.7 118.5L502.5 116.6L503 115.2L503.2 114.5L503.4 113.8L503.6 113.1L504.1 110.8L504.2 110L504.3 109.2L504.3 108.3Z" fill="#fff" stroke="none" stroke-width="0"/>
<path d="M503.5 107.8L503.3 106.8L503 105.8L502.6 104.7L502.2 103.6L501.7 102.5L501.2 101.5L500.7 100.4L500.2 99.3L499.6 98.3L498.9 97.2L497.9 96L496.3 94.7L488.3 91.4L488.3 79.3L488.6 78.5L489.3 77.6L489.9 76.7L490.3 75.7L490.6 74.7L490.7 73.7L490.6 72.8L490.5 71.8L490.3 70.8L490.1 69.9L489.8 69L489.4 68L489 67.1L488.6 66.3L488 65.4L487.5 64.6L486.9 63.8L486.2 63.1L485.5 62.4L484.8 61.7L484 61.2L483.2 60.7L482.3 60.2L481.3 59.9L480.3 59.8L479.1 59.9L477.9 60.1L477 60L443.6 40.4L442.7 39.4L441.5 37.7L440.3 36.3L439.3 35.2L438.3 34.3L437.4 33.7L436.6 33.3L435.8 32.9L435.1 32.7L434.4 32.6L433.7 32.5L433.1 32.6L432.6 32.8L432.1 33L431.6 33.3L431.2 33.8L430.8 34.2L430.5 34.8L430.3 35.5L430.1 36.2L430 37L430 38L430 39L430.3 40.3L430.7 41.8L431.3 43.5L432 45.2L432.3 46.4L432.3 85.4L432 86.2L431.3 87.1L430.7 88.1L430.3 89L430 90L430 91L430 91.9L430.1 92.9L430.3 93.9L430.5 94.8L430.8 95.8L431.2 96.7L431.6 97.6L432.1 98.4L432.6 99.3L433.1 100.1L433.7 100.9L434.4 101.6L435.1 102.3L435.8 103L436.6 103.5L437.4 104L438.3 104.5L439.3 104.8L440.3 104.9L441.5 104.9L442.5 104.9L443.3 105.1L477.3 125.1L478.1 125.9L479.1 127L480.3 128.4L481.3 129.5L482.3 130.4L483.2 131L484 131.4L484.8 131.8L485.5 132L486.2 132.1L486.9 132.2L487.5 132.1L488 131.9L488.6 131.7L489 131.4L489.4 131L489.8 130.5L490.1 129.9L490.7 129.8L492.3 129.1L493.3 128.6L493.8 128.3L494.3 128L494.8 127.6L495.2 127.2L495.7 126.8L496.5 125.9L497.2 125L500.4 120.1L501 118.9L501.8 117L502.3 115.7L502.5 115L502.7 114.2L502.9 113.5L503.4 111.2L503.5 110.4L503.6 109.6L503.6 108.7Z" fill="#fff" stroke="none" stroke-width="0"/>
<path d="M502.8 108.2L502.6 107.2L502.3 106.2L501.9 105.1L501.5 104L501 103L500.5 101.9L500 100.8L499.4 99.7L498.8 98.7L498.1 97.6L497.2 96.5L495.5 95.1L487.6 91.8L487.6 79.8L487.9 79L488.6 78L489.2 77.1L489.6 76.1L489.9 75.1L489.9 74.2L489.9 73.2L489.8 72.2L489.6 71.3L489.4 70.3L489.1 69.4L488.7 68.5L488.3 67.6L487.8 66.7L487.3 65.8L486.7 65L486.1 64.2L485.5 63.5L484.8 62.8L484.1 62.2L483.3 61.6L482.4 61.1L481.6 60.6L480.6 60.4L479.5 60.2L478.4 60.3L477.2 60.5L476.2 60.5L442.9 40.9L442 39.8L440.8 38.1L439.6 36.7L438.5 35.6L437.6 34.7L436.7 34.2L435.9 33.7L435.1 33.3L434.4 33.1L433.7 33L433 33L432.4 33.1L431.9 33.2L431.3 33.4L430.9 33.8L430.5 34.2L430.1 34.6L429.8 35.2L429.5 35.9L429.3 36.6L429.2 37.5L429.2 38.4L429.3 39.4L429.5 40.7L430 42.2L430.6 43.9L431.3 45.6L431.6 46.8L431.6 85.8L431.3 86.6L430.6 87.5L430 88.5L429.5 89.5L429.3 90.4L429.2 91.4L429.2 92.4L429.3 93.3L429.5 94.3L429.8 95.2L430.1 96.2L430.5 97.1L430.9 98L431.3 98.9L431.9 99.7L432.4 100.5L433 101.3L433.7 102L434.4 102.7L435.1 103.4L435.9 104L436.7 104.5L437.6 104.9L438.5 105.2L439.6 105.3L440.8 105.3L441.8 105.3L442.6 105.5L476.6 125.6L477.4 126.3L478.4 127.4L479.5 128.8L480.6 130L481.6 130.8L482.4 131.4L483.3 131.9L484.1 132.2L484.8 132.4L485.5 132.5L486.1 132.6L486.7 132.5L487.3 132.3L487.8 132.1L488.3 131.8L488.7 131.4L489.1 130.9L489.4 130.4L490 130.2L491.6 129.5L492.6 129L493.1 128.7L493.6 128.4L494.1 128.1L494.5 127.7L494.9 127.2L495.7 126.4L496.5 125.4L499.6 120.6L500.2 119.3L501.1 117.4L501.6 116.1L501.8 115.4L502 114.7L502.2 113.9L502.6 111.6L502.8 110.8L502.8 110L502.9 109.1Z" fill="#fff" stroke="none" stroke-width="0"/>
<path d="M437.2 30L430.6 33.9" fill="none" stroke="#4d4d4d" stroke-width="0.7"/>
<path d="M493.6 128.7L487.1 132.5" fill="none" stroke="#4d4d4d" stroke-width="0.7"/>
<path d="M498.4 125.6L491.9 129.4" fill="none" stroke="#4d4d4d" stroke-width="0.7"/>
<path d="M502 108.6L501.8 107.6L501.5 106.6L501.2 105.5L500.7 104.5L500.3 103.4L499.8 102.3L499.2 101.2L498.7 100.2L498.1 99.1L497.4 98L496.5 96.9L494.8 95.5L486.9 92.2L486.9 80.2L487.2 79.4L487.8 78.5L488.4 77.5L488.9 76.5L489.1 75.5L489.2 74.6L489.2 73.6L489.1 72.6L488.9 71.7L488.6 70.7L488.4 69.8L488 68.9L487.6 68L487.1 67.1L486.6 66.3L486 65.5L485.4 64.7L484.8 63.9L484.1 63.2L483.3 62.6L482.5 62L481.7 61.5L480.9 61.1L479.9 60.8L478.8 60.7L477.7 60.7L476.4 61L475.5 60.9L442.2 41.3L441.3 40.3L440 38.5L438.9 37.2L437.8 36L436.8 35.1L436 34.6L435.2 34.1L434.4 33.7L433.6 33.6L432.9 33.4L432.3 33.4L431.7 33.5L431.1 33.6L430.6 33.9L430.1 34.2L429.7 34.6L429.3 35.1L429.1 35.7L428.8 36.3L428.6 37L428.5 37.9L428.5 38.8L428.6 39.9L428.8 41.1L429.3 42.6L429.9 44.3L430.5 46L430.8 47.2L430.8 86.2L430.5 87L429.9 87.9L429.3 88.9L428.8 89.9L428.6 90.9L428.5 91.8L428.5 92.8L428.6 93.8L428.8 94.7L429.1 95.7L429.3 96.6L429.7 97.5L430.1 98.4L430.6 99.3L431.1 100.1L431.7 100.9L432.3 101.7L432.9 102.5L433.6 103.2L434.4 103.8L435.2 104.4L436 104.9L436.8 105.3L437.8 105.6L438.9 105.7L440 105.7L441 105.7L441.8 106L475.9 126L476.7 126.7L477.7 127.9L478.8 129.2L479.9 130.4L480.9 131.3L481.7 131.8L482.5 132.3L483.3 132.7L484.1 132.8L484.8 133L485.4 133L486 132.9L486.6 132.8L487.1 132.5L487.6 132.2L488 131.8L488.4 131.3L488.7 130.8L489.2 130.6L490.8 130L491.9 129.4L492.4 129.1L492.9 128.8L493.3 128.5L493.8 128.1L494.2 127.7L495 126.8L495.8 125.8L498.9 121L499.5 119.8L500.3 117.9L500.8 116.5L501.1 115.8L501.3 115.1L501.4 114.3L501.9 112L502 111.2L502.1 110.4L502.1 109.6Z" fill="#fff" stroke="#4d4d4d" stroke-width="0.7"/>
<path d="M442.2 54.3L446.3 52.9L451 53L456.1 54.6L461.4 57.7L466.5 62L471.2 67.4L475.4 73.6L478.6 80.3L480.9 87.1L482.1 93.7L482.2 99.8L481 105.1L478.8 109.3L475.5 112.1L474.2 112.9L470.1 114.3L465.4 114.2L460.3 112.5L455 109.5L449.9 105.1L445.2 99.7L441 93.5L437.8 86.9L435.5 80L434.3 73.4L434.2 67.3L435.4 62L437.6 57.9L440.9 55Z" fill="#fff" stroke="#4d4d4d" stroke-width="0.7"/>
<path d="M481 97.8L480.4 91.4L478.7 84.6L475.9 77.8L472.2 71.3L467.7 65.5L462.8 60.5L457.6 56.8L452.3 54.4L447.4 53.5L442.9 54.1L439.2 56.2L436.4 59.7L434.7 64.5L434.1 70.1L434.7 76.5L436.4 83.3L439.2 90.1L442.9 96.6L447.4 102.4L452.3 107.4L457.6 111.1L462.8 113.5L467.7 114.4L472.2 113.8L475.9 111.7L478.7 108.2L480.4 103.5Z" fill="#fff" stroke="#4d4d4d" stroke-width="0.7"/>
<path d="M483.2 105.7L484.2 105.3L485.5 105.3L486.8 105.7L488.2 106.6L489.6 107.7L490.8 109.1L491.9 110.8L492.8 112.5L493.4 114.3L493.7 116.1L493.7 117.7L493.4 119L492.8 120.1L491.9 120.9L490.4 121.8L489.3 122.2L488.1 122.1L486.7 121.7L485.4 120.9L484 119.7L482.8 118.3L481.7 116.7L480.8 114.9L480.2 113.1L479.9 111.4L479.9 109.8L480.2 108.4L480.8 107.3L481.6 106.5Z" fill="#fff" stroke="#4d4d4d" stroke-width="0.7"/>
<path d="M492.2 117.8L492 116.1L491.6 114.3L490.8 112.5L489.9 110.8L488.7 109.3L487.4 108L486 107L484.6 106.4L483.3 106.1L482.2 106.3L481.2 106.9L480.5 107.8L480 109L479.8 110.5L480 112.2L480.5 114L481.2 115.8L482.2 117.5L483.3 119L484.6 120.3L486 121.3L487.4 122L488.7 122.2L489.9 122L490.8 121.5L491.6 120.6L492 119.3Z" fill="#fff" stroke="#4d4d4d" stroke-width="0.7"/>
<path d="M489.8 116.4L489.8 115.7L489.6 114.9L489.4 114.2L489.1 113.4L488.7 112.6L488.3 111.9L487.7 111.3L487.2 110.7L486.6 110.2L486 109.8L485.4 109.5L484.8 109.3L484.3 109.2L483.8 109.3L483.3 109.5L482.9 109.8L482.6 110.2L482.4 110.7L482.3 111.3L482.2 111.9L482.3 112.6L482.4 113.4L482.6 114.2L482.9 114.9L483.3 115.7L483.8 116.4L484.3 117.1L484.8 117.7L485.4 118.2L486 118.6L486.6 118.9L487.2 119.1L487.7 119.1L488.3 119.1L488.7 118.9L489.1 118.6L489.4 118.2L489.6 117.7L489.8 117.1Z" fill="none" stroke="#4d4d4d" stroke-width="0.9"/>
<path d="M488.6 118.2L488.9 118.1L489.1 118.1L489.3 118L489.5 117.9L489.7 117.7L489.8 117.6L489.9 117.4L490.1 117.2L490.2 116.9L490.2 116.7L490.3 116.4L490.3 116.1L490.4 115.8L490.4 115.5L490.3 115.2L490.3 114.8L490.2 114.5L490.1 114.1L490 113.8L489.9 113.4L489.8 113.1L489.6 112.7L489.4 112.4L489.2 112L489 111.7L488.8 111.4L488.6 111.1L488.3 110.8L488.1 110.6L487.8 110.3L487.5 110.1L487.3 109.9L487 109.7L486.7 109.5L486.5 109.4L486.2 109.3L485.9 109.2L485.7 109.2L485.4 109.2L485.2 109.2" fill="none" stroke="#4d4d4d" stroke-width="0.5"/>
<path d="M440.4 45.6L440.3 44.7L440.1 43.8L439.9 42.8L439.5 41.9L439 41L438.5 40.1L437.8 39.3L437.2 38.6L436.5 38L435.8 37.5L435 37.1L434.3 36.9L433.7 36.8L433 36.9L432.5 37.1L432 37.5L431.6 38L431.4 38.6L431.2 39.3L431.1 40.1L431.2 41L431.4 41.9L431.6 42.8L432 43.8L432.5 44.7L433 45.6L433.7 46.4L434.3 47.1L435 47.7L435.8 48.2L436.5 48.6L437.2 48.8L437.8 48.8L438.5 48.8L439 48.5L439.5 48.2L439.9 47.7L440.1 47.1L440.3 46.4Z" fill="none" stroke="#4d4d4d" stroke-width="0.5"/>
<path d="M433.4 38.7L434 38.5L434.6 38.5L435.4 38.8L436.1 39.2L436.8 39.8L437.5 40.6L438.1 41.5L438.6 42.4L438.9 43.4L439.1 44.3L439.1 45.2L438.9 46L438.6 46.6L438.1 47L420.4 57.2L419.8 57.4L419.2 57.4L418.4 57.2L417.7 56.8L417 56.1L416.3 55.4L415.7 54.5L415.2 53.5L414.9 52.6L414.7 51.6L414.7 50.7L414.9 50L415.2 49.4L415.7 49Z" fill="#fff" stroke="#4d4d4d" stroke-width="0.7"/>
<path d="M421.4 55.1L421.3 54.2L421.1 53.2L420.7 52.2L420.1 51.3L419.5 50.5L418.8 49.8L418.1 49.2L417.3 48.9L416.6 48.8L416 48.8L415.4 49.2L415 49.7L414.8 50.3L414.7 51.1L414.8 52.1L415 53L415.4 54L416 54.9L416.6 55.8L417.3 56.5L418.1 57L418.8 57.3L419.5 57.5L420.1 57.4L420.7 57.1L421.1 56.6L421.3 55.9Z" fill="#fff" stroke="#4d4d4d" stroke-width="0.7"/>
<path d="M419.9 54.2L419.9 53.9L419.8 53.5L419.7 53.1L419.5 52.7L419.4 52.4L419.1 52L418.9 51.7L418.6 51.4L418.3 51.2L418.1 51L417.8 50.8L417.5 50.7L417.2 50.7L417 50.7L416.7 50.8L416.6 51L416.4 51.2L416.3 51.4L416.2 51.7L416.2 52L416.2 52.4L416.3 52.7L416.4 53.1L416.6 53.5L416.7 53.9L417 54.2L417.2 54.5L417.5 54.8L417.8 55.1L418.1 55.3L418.3 55.4L418.6 55.5L418.9 55.5L419.1 55.5L419.4 55.4L419.5 55.3L419.7 55.1L419.8 54.8L419.9 54.5Z" fill="none" stroke="#4d4d4d" stroke-width="0.5"/>
<path d="M486.6 126.3L486.5 125.4L486.3 124.5L486.1 123.6L485.7 122.6L485.2 121.7L484.7 120.8L484 120L483.4 119.3L482.7 118.7L482 118.2L481.2 117.8L480.5 117.6L479.9 117.6L479.2 117.6L478.7 117.9L478.2 118.2L477.8 118.7L477.6 119.3L477.4 120L477.3 120.8L477.4 121.7L477.6 122.6L477.8 123.6L478.2 124.5L478.7 125.4L479.2 126.3L479.9 127.1L480.5 127.8L481.2 128.4L482 128.9L482.7 129.3L483.4 129.5L484 129.6L484.7 129.5L485.2 129.3L485.7 128.9L486.1 128.4L486.3 127.8L486.5 127.1Z" fill="none" stroke="#4d4d4d" stroke-width="0.5"/>
<path d="M479.6 119.4L480.2 119.2L480.8 119.2L481.6 119.5L482.3 119.9L483 120.5L483.7 121.3L484.3 122.2L484.8 123.1L485.1 124.1L485.3 125.1L485.3 125.9L485.1 126.7L484.8 127.3L484.3 127.7L466.6 138L466 138.2L465.4 138.1L464.6 137.9L463.9 137.5L463.2 136.9L462.5 136.1L461.9 135.2L461.4 134.2L461.1 133.3L460.9 132.3L460.9 131.5L461.1 130.7L461.4 130.1L461.9 129.7Z" fill="#fff" stroke="#4d4d4d" stroke-width="0.7"/>
<path d="M467.6 135.8L467.5 134.9L467.3 133.9L466.9 133L466.3 132L465.7 131.2L465 130.5L464.3 130L463.5 129.6L462.8 129.5L462.2 129.6L461.6 129.9L461.2 130.4L461 131L460.9 131.9L461 132.8L461.2 133.7L461.6 134.7L462.2 135.6L462.8 136.5L463.5 137.2L464.3 137.7L465 138.1L465.7 138.2L466.3 138.1L466.9 137.8L467.3 137.3L467.5 136.6Z" fill="#fff" stroke="#4d4d4d" stroke-width="0.7"/>
<path d="M466.1 134.9L466.1 134.6L466 134.2L465.9 133.8L465.7 133.5L465.6 133.1L465.3 132.7L465.1 132.4L464.8 132.1L464.5 131.9L464.3 131.7L464 131.5L463.7 131.5L463.4 131.4L463.2 131.5L462.9 131.5L462.8 131.7L462.6 131.9L462.5 132.1L462.4 132.4L462.4 132.7L462.4 133.1L462.5 133.5L462.6 133.8L462.8 134.2L462.9 134.6L463.2 134.9L463.4 135.2L463.7 135.5L464 135.8L464.3 136L464.5 136.1L464.8 136.2L465.1 136.2L465.3 136.2L465.6 136.1L465.7 136L465.9 135.8L466 135.5L466.1 135.2Z" fill="none" stroke="#4d4d4d" stroke-width="0.5"/>
<path d="M441.9 57.3L445.7 56L450.1 56.1L454.8 57.6L459.6 60.5L464.4 64.5L468.8 69.5L472.6 75.2L475.6 81.4L477.8 87.7L478.9 93.9L478.9 99.5L477.8 104.4L475.8 108.2L472.7 110.9L461.5 117.4L457.7 118.7L453.4 118.6L448.6 117.1L443.8 114.2L439 110.2L434.6 105.2L430.8 99.5L427.8 93.3L425.6 87L424.5 80.8L424.5 75.2L425.6 70.3L427.7 66.5L430.7 63.8Z" fill="#fff" stroke="#4a4a4a" stroke-width="0.9"/>
<path d="M467.8 103.4L467.3 97.5L465.7 91.2L463.1 84.9L459.6 78.9L455.5 73.5L450.9 68.9L446.1 65.4L441.3 63.2L436.7 62.4L432.6 63L429.1 64.9L426.5 68.2L424.9 72.5L424.4 77.8L424.9 83.7L426.5 90L429.1 96.3L432.6 102.3L436.7 107.7L441.3 112.3L446.1 115.8L450.9 118L455.5 118.8L459.6 118.2L463.1 116.3L465.7 113L467.3 108.7Z" fill="#fff" stroke="#4a4a4a" stroke-width="0.9"/>
<path d="M467 102.9L466.7 98.9L465.9 94.8L464.7 90.6L463 86.3L460.8 82.2L458.4 78.3L455.6 74.6L452.5 71.4L449.4 68.7L446.1 66.4L442.8 64.8L439.7 63.8L436.6 63.5L433.9 63.8L431.4 64.8L429.2 66.5L427.5 68.7L426.3 71.5L425.5 74.7L425.3 78.3L425.5 82.3L426.3 86.4L427.5 90.6L429.2 94.9L431.4 99L433.9 102.9L436.6 106.5L439.7 109.8L442.8 112.5L446.1 114.7L449.4 116.4L452.5 117.4L455.6 117.7L458.4 117.3L460.8 116.4L463 114.7L464.7 112.5L465.9 109.7L466.7 106.5Z" fill="none" stroke="#707070" stroke-width="2.0"/>
<path d="M465.4 102L465.2 98.3L464.5 94.5L463.3 90.6L461.7 86.6L459.7 82.8L457.4 79.2L454.9 75.8L452.1 72.9L449.1 70.3L446.1 68.3L443.1 66.7L440.1 65.8L437.3 65.5L434.8 65.8L432.5 66.8L430.5 68.3L428.9 70.3L427.8 72.9L427.1 75.9L426.8 79.2L427.1 82.9L427.8 86.7L428.9 90.6L430.5 94.5L432.5 98.4L434.8 102L437.3 105.3L440.1 108.3L443.1 110.9L446.1 112.9L449.1 114.4L452.1 115.4L454.9 115.7L457.4 115.3L459.7 114.4L461.7 112.9L463.3 110.9L464.5 108.3L465.2 105.3Z" fill="none" stroke="#777" stroke-width="0.6"/>
<path d="M464.8 100.9L464.6 97.5L463.9 93.9L462.9 90.2L461.4 86.5L459.5 82.9L457.4 79.5L454.9 76.4L452.3 73.6L449.5 71.2L446.7 69.2L443.9 67.8L441.1 67L438.5 66.7L436 67L433.9 67.9L432 69.3L430.5 71.2L429.5 73.6L428.8 76.4L428.6 79.6L428.8 83L429.5 86.6L430.5 90.3L432 94L433.9 97.6L436 101L438.5 104.1L441.1 106.9L443.9 109.3L446.7 111.3L449.5 112.7L452.3 113.5L454.9 113.8L457.4 113.5L459.5 112.7L461.4 111.2L462.9 109.3L463.9 106.9L464.6 104.1Z" fill="none" stroke="#5a5a5a" stroke-width="1.1"/>
<path d="M463.7 99.6L463.5 96.5L462.9 93.2L461.9 89.9L460.6 86.6L458.9 83.3L456.9 80.2L454.7 77.4L452.4 74.8L449.9 72.7L447.3 70.9L444.7 69.6L442.2 68.9L439.8 68.6L437.6 68.9L435.7 69.6L434 70.9L432.7 72.7L431.7 74.9L431.1 77.4L430.9 80.3L431.1 83.3L431.7 86.6L432.7 89.9L434 93.3L435.7 96.5L437.6 99.6L439.8 102.5L442.2 105L444.7 107.2L447.3 108.9L449.9 110.2L452.4 111L454.7 111.2L456.9 111L458.9 110.2L460.6 108.9L461.9 107.1L462.9 105L463.5 102.4Z" fill="#f4f4f4" stroke="#6a6a6a" stroke-width="1.9" stroke-dasharray="1.5 1.2"/>
<path d="M462.4 98.8L462.2 96L461.7 93L460.8 89.9L459.5 86.8L458 83.8L456.2 81L454.2 78.3L452 76L449.7 74L447.3 72.4L444.9 71.2L442.6 70.5L440.4 70.2L438.4 70.5L436.6 71.2L435 72.4L433.8 74L432.9 76L432.3 78.4L432.2 81L432.3 83.9L432.9 86.9L433.8 89.9L435 93L436.6 96L438.4 98.9L440.4 101.5L442.6 103.8L444.9 105.8L447.3 107.4L449.7 108.6L452 109.3L454.2 109.6L456.2 109.3L458 108.6L459.5 107.4L460.8 105.8L461.7 103.8L462.2 101.5Z" fill="#fff" stroke="#4d4d4d" stroke-width="0.6"/>
<path d="M451.7 108.2L452.5 108.4L453.3 108.5L454 108.6L454.8 108.6L455.5 108.6L456.2 108.5L456.9 108.3L457.5 108.1L458.1 107.8L458.7 107.4L459.2 107L459.7 106.5L460.2 106L460.6 105.5L461 104.8L461.4 104.2L461.7 103.4L461.9 102.7L462.2 101.9L462.3 101L462.4 100.1L462.5 99.2L462.5 98.3L462.5 97.3L462.5 96.3L462.3 95.3L462.2 94.2L462 93.2L461.7 92.1L461.4 91L461.1 90L460.7 88.9L460.3 87.8L459.8 86.7L459.3 85.7L458.8 84.6L458.2 83.6L457.6 82.6L457 81.6L456.3 80.6" fill="none" stroke="#5a5a5a" stroke-width="1.7"/>
<path d="M460.2 98.2L460 95.7L459.5 93L458.7 90.2L457.6 87.5L456.3 84.8L454.6 82.3L452.8 79.9L450.9 77.8L448.8 76L446.7 74.6L444.6 73.5L442.5 72.9L440.6 72.7L438.8 72.9L437.1 73.6L435.8 74.6L434.7 76.1L433.8 77.8L433.3 79.9L433.2 82.3L433.3 84.8L433.8 87.5L434.7 90.3L435.8 93L437.1 95.7L438.8 98.2L440.6 100.6L442.5 102.7L444.6 104.5L446.7 105.9L448.8 107L450.9 107.6L452.8 107.8L454.6 107.6L456.3 106.9L457.6 105.9L458.7 104.4L459.5 102.7L460 100.6Z" fill="none" stroke="#555" stroke-width="0.8"/>
<path d="M438.2 75.6L440.3 74.9L442.7 74.9L445.3 75.7L448 77.3L450.6 79.5L453 82.3L455.1 85.4L456.7 88.8L457.9 92.2L458.5 95.6L458.5 98.7L457.9 101.4L456.8 103.5L455.1 104.9L451.8 106.9L449.7 107.6L447.3 107.5L444.7 106.7L442.1 105.2L439.5 103L437 100.2L435 97.1L433.3 93.7L432.1 90.2L431.5 86.9L431.5 83.8L432.1 81.1L433.2 79L434.9 77.5Z" fill="#fff" stroke="#4d4d4d" stroke-width="0.7"/>
<path d="M455.2 99.2L454.9 96L454.1 92.5L452.6 89.1L450.8 85.8L448.5 82.8L446 80.3L443.3 78.4L440.7 77.2L438.2 76.7L435.9 77.1L434 78.1L432.6 79.9L431.7 82.3L431.4 85.2L431.7 88.4L432.6 91.9L434 95.3L435.9 98.6L438.2 101.6L440.7 104.1L443.3 106L446 107.2L448.5 107.7L450.8 107.3L452.6 106.3L454.1 104.5L454.9 102.1Z" fill="#fff" stroke="#4d4d4d" stroke-width="0.7"/>
<path d="M446.3 105.7L446.9 105.9L447.6 106.1L448.2 106.2L448.8 106.3L449.3 106.3L449.9 106.3L450.5 106.3L451 106.1L451.5 106L452 105.8L452.4 105.5L452.9 105.3L453.3 104.9L453.7 104.5L454 104.1L454.3 103.7L454.6 103.2L454.9 102.6L455.1 102.1L455.3 101.5L455.4 100.8L455.5 100.2L455.6 99.5L455.6 98.7L455.7 98L455.6 97.2L455.6 96.5L455.4 95.7L455.3 94.9L455.1 94L454.9 93.2L454.7 92.4L454.4 91.5L454.1 90.7L453.7 89.9L453.4 89.1L453 88.2L452.5 87.4L452.1 86.6L451.6 85.9" fill="none" stroke="#666" stroke-width="1.3"/>
<path d="M453.5 98.2L453.4 96.3L453 94.3L452.4 92.2L451.6 90.1L450.5 88.1L449.3 86.2L447.9 84.4L446.5 82.9L444.9 81.5L443.3 80.4L441.7 79.6L440.2 79.2L438.7 79L437.4 79.2L436.1 79.6L435.1 80.4L434.3 81.5L433.7 82.9L433.3 84.5L433.2 86.2L433.3 88.1L433.7 90.2L434.3 92.2L435.1 94.3L436.1 96.3L437.4 98.2L438.7 100L440.2 101.6L441.7 102.9L443.3 104L444.9 104.8L446.5 105.3L447.9 105.4L449.3 105.2L450.5 104.8L451.6 104L452.4 102.9L453 101.5L453.4 100Z" fill="none" stroke="#4d4d4d" stroke-width="0.5"/>
<path d="M486.6 72.8L486.5 71.9L486.3 71L486.1 70L485.7 69.1L485.2 68.2L484.7 67.3L484 66.5L483.4 65.8L482.7 65.2L482 64.7L481.2 64.3L480.5 64.1L479.9 64L479.2 64.1L478.7 64.3L478.2 64.7L477.8 65.2L477.6 65.8L477.4 66.5L477.3 67.3L477.4 68.2L477.6 69.1L477.8 70L478.2 71L478.7 71.9L479.2 72.8L479.9 73.6L480.5 74.3L481.2 74.9L482 75.4L482.7 75.8L483.4 76L484 76L484.7 76L485.2 75.7L485.7 75.4L486.1 74.9L486.3 74.3L486.5 73.6Z" fill="none" stroke="#4d4d4d" stroke-width="0.5"/>
<path d="M479.6 65.9L480.2 65.7L480.8 65.7L481.6 66L482.3 66.4L483 67L483.7 67.8L484.3 68.7L484.8 69.6L485.1 70.6L485.3 71.5L485.3 72.4L485.1 73.2L484.8 73.8L484.3 74.2L466.6 84.4L466 84.6L465.4 84.6L464.6 84.4L463.9 84L463.2 83.3L462.5 82.6L461.9 81.7L461.4 80.7L461.1 79.8L460.9 78.8L460.9 77.9L461.1 77.2L461.4 76.6L461.9 76.2Z" fill="#fff" stroke="#4d4d4d" stroke-width="0.7"/>
<path d="M467.6 82.3L467.5 81.4L467.3 80.4L466.9 79.4L466.3 78.5L465.7 77.7L465 77L464.3 76.4L463.5 76.1L462.8 76L462.2 76L461.6 76.4L461.2 76.9L461 77.5L460.9 78.3L461 79.3L461.2 80.2L461.6 81.2L462.2 82.1L462.8 83L463.5 83.7L464.3 84.2L465 84.5L465.7 84.7L466.3 84.6L466.9 84.3L467.3 83.8L467.5 83.1Z" fill="#fff" stroke="#4d4d4d" stroke-width="0.7"/>
<path d="M466.1 81.4L466.1 81.1L466 80.7L465.9 80.3L465.7 79.9L465.6 79.6L465.3 79.2L465.1 78.9L464.8 78.6L464.5 78.4L464.3 78.2L464 78L463.7 77.9L463.4 77.9L463.2 77.9L462.9 78L462.8 78.2L462.6 78.4L462.5 78.6L462.4 78.9L462.4 79.2L462.4 79.6L462.5 79.9L462.6 80.3L462.8 80.7L462.9 81.1L463.2 81.4L463.4 81.7L463.7 82L464 82.3L464.3 82.5L464.5 82.6L464.8 82.7L465.1 82.7L465.3 82.7L465.6 82.6L465.7 82.5L465.9 82.3L466 82L466.1 81.7Z" fill="none" stroke="#4d4d4d" stroke-width="0.5"/>
<path d="M435.2 85.7L436.5 85.2L438 85.2L439.6 85.8L441.3 86.7L442.9 88.1L444.5 89.9L445.8 91.9L446.8 94L447.6 96.2L448 98.3L448 100.2L447.6 101.9L446.9 103.3L445.8 104.2L342.9 163.9L341.6 164.4L340.1 164.3L338.4 163.8L336.7 162.8L335.1 161.4L333.6 159.7L332.3 157.7L331.2 155.6L330.5 153.4L330.1 151.3L330.1 149.3L330.4 147.7L331.2 146.3L332.2 145.4Z" fill="#fff" stroke="#4d4d4d" stroke-width="0.8"/>
<path d="M345.1 159.1L344.9 157L344.3 154.9L343.4 152.7L342.2 150.6L340.8 148.7L339.2 147.2L337.5 146L335.9 145.2L334.3 144.9L332.9 145.1L331.7 145.8L330.8 146.9L330.2 148.4L330 150.2L330.2 152.3L330.8 154.5L331.7 156.6L332.9 158.7L334.3 160.6L335.9 162.2L337.5 163.4L339.2 164.1L340.8 164.4L342.2 164.2L343.4 163.5L344.3 162.4L344.9 160.9Z" fill="#fff" stroke="#4d4d4d" stroke-width="0.8"/>
<path d="M331.6 143.7L333 143.2L334.7 143.3L336.6 143.9L338.5 145L340.3 146.5L342 148.5L343.5 150.7L344.7 153.1L345.5 155.5L345.9 157.9L345.9 160.1L345.5 162L344.7 163.5L343.5 164.5L323.9 175.9L322.4 176.4L320.7 176.4L318.9 175.8L317 174.7L315.2 173.2L313.4 171.2L312 169L310.8 166.6L310 164.1L309.5 161.7L309.5 159.6L309.9 157.7L310.7 156.2L311.9 155.1Z" fill="#9c9c9c" stroke="#4a4a4a" stroke-width="0.9"/>
<path d="M326.3 170.5L326.1 168.2L325.5 165.8L324.5 163.3L323.2 161L321.6 158.9L319.8 157.1L317.9 155.8L316 154.9L314.2 154.6L312.6 154.8L311.3 155.6L310.3 156.8L309.7 158.5L309.5 160.6L309.7 162.9L310.3 165.3L311.3 167.7L312.6 170.1L314.2 172.2L316 174L317.9 175.3L319.8 176.2L321.6 176.5L323.2 176.3L324.5 175.5L325.5 174.2L326.1 172.5Z" fill="#fff" stroke="#4a4a4a" stroke-width="0.9"/>
<path d="M343.2 164.4L324.8 175" fill="none" stroke="#e2e2e2" stroke-width="1.15"/>
<path d="M343.9 163.5L325.5 174.2" fill="none" stroke="#686868" stroke-width="0.7"/>
<path d="M344.4 162.5L326.1 173.1" fill="none" stroke="#e2e2e2" stroke-width="1.15"/>
<path d="M344.8 161.2L326.4 171.9" fill="none" stroke="#686868" stroke-width="0.7"/>
<path d="M344.9 159.8L326.6 170.5" fill="none" stroke="#e2e2e2" stroke-width="1.15"/>
<path d="M344.9 158.3L326.5 169" fill="none" stroke="#686868" stroke-width="0.7"/>
<path d="M344.6 156.7L326.3 167.3" fill="none" stroke="#e2e2e2" stroke-width="1.15"/>
<path d="M344.1 155L325.8 165.7" fill="none" stroke="#686868" stroke-width="0.7"/>
<path d="M343.5 153.3L325.2 164" fill="none" stroke="#e2e2e2" stroke-width="1.15"/>
<path d="M342.7 151.7L324.4 162.3" fill="none" stroke="#686868" stroke-width="0.7"/>
<path d="M341.7 150.1L323.4 160.7" fill="none" stroke="#e2e2e2" stroke-width="1.15"/>
<path d="M340.7 148.6L322.3 159.3" fill="none" stroke="#686868" stroke-width="0.7"/>
<path d="M339.5 147.3L321.1 158" fill="none" stroke="#e2e2e2" stroke-width="1.15"/>
<path d="M338.2 146.2L319.9 156.8" fill="none" stroke="#686868" stroke-width="0.7"/>
<path d="M336.9 145.3L318.6 155.9" fill="none" stroke="#e2e2e2" stroke-width="1.15"/>
<path d="M335.7 144.6L317.3 155.2" fill="none" stroke="#686868" stroke-width="0.7"/>
<path d="M334.4 144.1L316 154.8" fill="none" stroke="#e2e2e2" stroke-width="1.15"/>
<path d="M333.2 143.9L314.8 154.6" fill="none" stroke="#686868" stroke-width="0.7"/>
<path d="M332 144L313.7 154.6" fill="none" stroke="#e2e2e2" stroke-width="1.15"/>
<path d="M331 144.3L312.7 155" fill="none" stroke="#686868" stroke-width="0.7"/>
<path d="M331.8 143.7L312.7 154.8" fill="none" stroke="#3c3c3c" stroke-width="1.3"/>
<path d="M326.3 170.5L326.2 168.9L325.9 167.2L325.4 165.5L324.7 163.8L323.9 162.1L322.9 160.6L321.7 159.1L320.5 157.8L319.2 156.7L317.9 155.8L316.6 155.1L315.3 154.7L314.1 154.6L312.9 154.7L311.9 155.1L311.1 155.8L310.4 156.7L309.9 157.8L309.6 159.1L309.5 160.6L309.6 162.2L309.9 163.8L310.4 165.5L311.1 167.3L311.9 168.9L312.9 170.5L314.1 172L315.3 173.3L316.6 174.4L317.9 175.3L319.2 176L320.5 176.4L321.7 176.5L322.9 176.4L323.9 176L324.7 175.3L325.4 174.4L325.9 173.3L326.2 172Z" fill="#fff" stroke="#555" stroke-width="0.9"/>
<path d="M325.2 169.8L325.1 168.4L324.8 167L324.4 165.5L323.8 164L323 162.6L322.2 161.2L321.2 160L320.1 158.8L319 157.9L317.9 157.1L316.8 156.5L315.7 156.2L314.6 156.1L313.6 156.2L312.8 156.5L312 157.1L311.4 157.9L311 158.9L310.7 160L310.6 161.3L310.7 162.6L311 164.1L311.4 165.5L312 167L312.8 168.5L313.6 169.8L314.6 171.1L315.7 172.2L316.8 173.2L317.9 174L319 174.5L320.1 174.9L321.2 175L322.2 174.9L323 174.5L323.8 174L324.4 173.2L324.8 172.2L325.1 171.1Z" fill="none" stroke="#999" stroke-width="0.5"/>
<path d="M319.2 166.3L319.2 166.1L319.2 165.8L319.1 165.5L319 165.3L318.8 165L318.7 164.7L318.5 164.5L318.3 164.3L318.1 164.1L317.9 164L317.7 163.9L317.5 163.8L317.3 163.8L317.1 163.8L317 163.9L316.8 164L316.7 164.1L316.6 164.3L316.6 164.5L316.6 164.8L316.6 165L316.6 165.3L316.7 165.5L316.8 165.8L317 166.1L317.1 166.3L317.3 166.6L317.5 166.8L317.7 166.9L317.9 167.1L318.1 167.2L318.3 167.2L318.5 167.3L318.7 167.2L318.8 167.2L319 167.1L319.1 166.9L319.2 166.8L319.2 166.5Z" fill="#d0d0d0" stroke="#666" stroke-width="0.8"/>
</g>
<g fill="none" stroke="#1c1c1c" stroke-width="0.99" stroke-linecap="round" stroke-linejoin="round">
<path d="M220.5 314.7L221.31 315.18L221.85 315.71L222.24 316.25L222.5 316.81L222.62 317.36L222.58 317.9L222.41 318.41L222.09 318.88L221.64 319.29L221.06 319.64L220.36 319.92L219.43 320.06L219.99 320.81L220.29 321.5L220.45 322.16L220.48 322.77L220.37 323.33L220.14 323.81L219.78 324.21L219.3 324.52L218.73 324.74L218.06 324.84L217.31 324.83L216.4 324.6L216.63 325.51L216.64 326.26L216.54 326.93L216.32 327.5L216.01 327.98L215.61 328.34L215.13 328.57L214.57 328.68L213.96 328.65L213.3 328.49L212.61 328.19L211.86 327.63L211.72 328.56L211.44 329.26L211.09 329.84L210.68 330.29L210.21 330.61L209.7 330.78L209.16 330.82L208.61 330.7L208.05 330.44L207.51 330.05L206.98 329.51L206.5 328.7L206.02 329.51L205.49 330.05L204.95 330.44L204.39 330.7L203.84 330.82L203.3 330.78L202.79 330.61L202.32 330.29L201.91 329.84L201.56 329.26L201.28 328.56L201.14 327.63L200.39 328.19L199.7 328.49L199.04 328.65L198.43 328.68L197.87 328.57L197.39 328.34L196.99 327.98L196.68 327.5L196.46 326.93L196.36 326.26L196.37 325.51L196.6 324.6L195.69 324.83L194.94 324.84L194.27 324.74L193.7 324.52L193.22 324.21L192.86 323.81L192.63 323.33L192.52 322.77L192.55 322.16L192.71 321.5L193.01 320.81L193.57 320.06L192.64 319.92L191.94 319.64L191.36 319.29L190.91 318.88L190.59 318.41L190.42 317.9L190.38 317.36L190.5 316.81L190.76 316.25L191.15 315.71L191.69 315.18L192.5 314.7L191.69 314.22L191.15 313.69L190.76 313.15L190.5 312.59L190.38 312.04L190.42 311.5L190.59 310.99L190.91 310.52L191.36 310.11L191.94 309.76L192.64 309.48L193.57 309.34L193.01 308.59L192.71 307.9L192.55 307.24L192.52 306.63L192.63 306.07L192.86 305.59L193.22 305.19L193.7 304.88L194.27 304.66L194.94 304.56L195.69 304.57L196.6 304.8L196.37 303.89L196.36 303.14L196.46 302.47L196.68 301.9L196.99 301.42L197.39 301.06L197.87 300.83L198.43 300.72L199.04 300.75L199.7 300.91L200.39 301.21L201.14 301.77L201.28 300.84L201.56 300.14L201.91 299.56L202.32 299.11L202.79 298.79L203.3 298.62L203.84 298.58L204.39 298.7L204.95 298.96L205.49 299.35L206.02 299.89L206.5 300.7L206.98 299.89L207.51 299.35L208.05 298.96L208.61 298.7L209.16 298.58L209.7 298.62L210.21 298.79L210.68 299.11L211.09 299.56L211.44 300.14L211.72 300.84L211.86 301.77L212.61 301.21L213.3 300.91L213.96 300.75L214.57 300.72L215.13 300.83L215.61 301.06L216.01 301.42L216.32 301.9L216.54 302.47L216.64 303.14L216.63 303.89L216.4 304.8L217.31 304.57L218.06 304.56L218.73 304.66L219.3 304.88L219.78 305.19L220.14 305.59L220.37 306.07L220.48 306.63L220.45 307.24L220.29 307.9L219.99 308.59L219.43 309.34L220.36 309.48L221.06 309.76L221.64 310.11L222.09 310.52L222.41 310.99L222.58 311.5L222.62 312.04L222.5 312.59L222.24 313.15L221.85 313.69L221.31 314.22L220.5 314.7Z" stroke-width="1.21"/>
<circle cx="206.5" cy="314.7" r="12.9" stroke-width="0.99"/>
<circle cx="206.5" cy="314.7" r="18.7" stroke-width="1.1"/>
<circle cx="206.5" cy="314.7" r="30.6" stroke-width="1.1"/>
<circle cx="206.5" cy="314.7" r="37.5" stroke-width="1.1"/>
<circle cx="206.5" cy="314.7" r="40.5" stroke-width="1.21"/>
<path d="M184.03 300.66A26.5 26.5 0 1 1 184.03 328.74" stroke-width="1.1"/>
<path d="M184.03 300.66Q183 302.4 180 304.7"/>
<path d="M184.03 328.74Q183 327 180 324.7"/>
<path d="M180.08 324.84A28.3 28.3 0 0 1 180.08 304.56" stroke-width="0.99"/>
<circle cx="182.5" cy="308.3" r="1.1" fill="#555" stroke-width="0.66"/>
<circle cx="182.5" cy="321.1" r="1.1" fill="#555" stroke-width="0.66"/>
<path d="M180 314.7h3" stroke-width="1.32"/>
<path d="M190.16 285.23A33.7 33.7 0 0 1 225.34 286.76" stroke-width="2.2"/>
<path d="M177.03 298.36A33.7 33.7 0 0 1 187.17 287.09" stroke-width="2.2"/>
<path d="M174.27 324.55A33.7 33.7 0 0 1 173.66 307.12" stroke-width="2.2"/>
<path d="M185.29 340.89A33.7 33.7 0 0 1 175.48 327.87" stroke-width="2.2"/>
<path d="M225.83 342.31A33.7 33.7 0 0 1 188.15 342.96" stroke-width="2.2"/>
<path d="M237.75 327.32A33.7 33.7 0 0 1 228.61 340.13" stroke-width="2.2"/>
<path d="M239.05 305.98A33.7 33.7 0 0 1 238.89 323.99" stroke-width="2.2"/>
<path d="M228.16 288.88A33.7 33.7 0 0 1 237.75 302.08" stroke-width="2.2"/>
<path d="M171.12 313.46A35.4 35.4 0 1 1 171.12 315.94" stroke-width="0.45"/>
<circle cx="166.7" cy="275" r="6.2" stroke-width="1.21"/>
<circle cx="246.4" cy="275" r="6.2" stroke-width="1.21"/>
<circle cx="166.7" cy="354.8" r="6.2" stroke-width="1.21"/>
<circle cx="246.4" cy="354.8" r="6.2" stroke-width="1.21"/>
<circle cx="226.2" cy="265" r="10.7" stroke-width="1.21"/>
<circle cx="226.2" cy="265" r="6.6" stroke-width="1.21"/>
<path d="M224.7 271.2l1.5 1.2l1.5-1.2" stroke-width="0.88"/>
<path d="M155.8 340L155.8 287Q155.8 285 155.82 283.81A14.0 14.0 0 0 1 170.32 261.48L171 262.3Q174.5 262.6 176.5 263.8Q179 265 181.6 264.4" stroke-width="1.65"/>
<path d="M181.5 264.3Q186.5 260 187.3 253.5Q188.5 244 195 239.2Q201 235 207.5 235.3Q214 235.6 219.5 239.5Q224 242.6 230.5 244.3Q240 247 246 254.5Q249 258.5 251.5 261.5" stroke-width="1.43"/>
<path d="M251.64 262.02A14.0 14.0 0 0 1 257.12 284Q256.7 286 256.7 288L256.7 341Q256.7 343 257.12 345.8" stroke-width="1.65"/>
<path d="M257.12 345.8A14.0 14.0 0 0 1 238.98 366.67Q237.5 366 235.5 366L177.6 366Q175.6 366 174.12 366.67" stroke-width="1.65"/>
<path d="M174.12 366.67A14.0 14.0 0 0 1 155.98 345.8Q155.8 343.5 155.8 340" stroke-width="1.65"/>
<path d="M156.05 281.15A12.3 12.3 0 0 1 167.77 262.75" stroke-width="0.66"/>
<path d="M252.55 264.35A12.3 12.3 0 0 1 257.05 281.15" stroke-width="0.66"/>
<path d="M257.05 348.65A12.3 12.3 0 0 1 241.2 365.95" stroke-width="0.66"/>
<path d="M171.9 365.95A12.3 12.3 0 0 1 156.05 348.65" stroke-width="0.66"/>
<g transform="translate(178.8 255.2) rotate(33)">
<path d="M-6 -4.6Q-6 -5.6 -4.8 -5.6L2 -5.6Q4.6 -5 4.6 -3L4.6 3Q4.6 5 2 5.6L-4.8 5.6Q-6 5.6 -6 4.6Z" stroke-width="1.21" fill="#fff"/>
<path d="M-4.7 -5.6L-4.7 5.6M-4.7 0L4.4 0" stroke-width="0.99"/>
<path d="M-8.2 -4.2L-6 -4.2M-8.2 4.2L-6 4.2" stroke-width="0.88"/>
<rect x="-10.4" y="-7.3" width="2.3" height="14.6" rx="1.1" stroke-width="0.99" fill="#444"/>
<path d="M4.6 -4.4Q6.5 -5.4 7.4 -7M4.6 4.4Q6.4 5 8 4.4" stroke-width="1.1"/>
</g>
</g>
</g>
</g>
<g stroke="#8a8a8a" stroke-width="0.5" fill="none">
<path d="M157.2 275h19M166.7 265.5v19"/>
<path d="M236.9 275h19M246.4 265.5v19"/>
<path d="M157.2 354.8h19M166.7 345.3v19"/>
<path d="M236.9 354.8h19M246.4 345.3v19"/>
<path d="M213.5 265h25.5M226.2 252.5v25"/>
</g>
<g fill="none" stroke="#1c1c1c" stroke-width="1.02" stroke-linejoin="round" stroke-linecap="butt">
<!-- nuts -->
<path d="M320.3 265.2H311Q308.4 265.2 308.4 268V282Q308.4 284.6 311 284.6H320.3" stroke-width="1.47"/>
<path d="M310.3 266V284" stroke-width="2.0"/>
<path d="M311.5 274.4H320.3" stroke-width="1.02"/>
<path d="M320.3 345H311Q308.4 345 308.4 347.6V361.8Q308.4 364.4 311 364.4H320.3" stroke-width="1.47"/>
<path d="M310.3 345.8V363.8" stroke-width="2.0"/>
<path d="M311.5 354.4H320.3" stroke-width="1.02"/>
<!-- plate 1 -->
<path d="M320.4 261H328.3V368.6H320.4Z" stroke-width="1.24"/>
<path d="M320.4 282.5H328.3M320.4 287.4H328.3M320.4 342.4H328.3M320.4 347.4H328.3" stroke-width="1.02"/>
<!-- plate 2 -->
<path d="M377.4 261.4H385.4V368.6H377.4Z" stroke-width="1.24"/>
<path d="M377.4 282.5H385.4M377.4 287.4H385.4M377.4 342.4H385.4M377.4 347.4H385.4" stroke-width="1.02"/>
<!-- cylinder -->
<path d="M328.3 265H377.4M328.3 364.6H377.4" stroke-width="1.24"/>
<path d="M328.5 261V368.6M377.2 261.4V368.6" stroke-width="1.5"/>
<path d="M328.3 284.7H377.4M328.3 344.8H377.4M328.3 298.2H377.4M328.3 306.8H377.4M328.3 323H377.4M328.3 331.2H377.4" stroke-width="1.02"/>
<path d="M328.3 302.5H377.4M328.3 327.1H377.4" stroke-width="1.7"/>
<!-- air inlet fitting -->
<path d="M345 265Q343.6 257 348.4 252.4M368.2 265Q369.6 257 364.8 252.4" stroke-width="1.5"/>
<path d="M347.4 265Q346.6 258.5 349.6 255.2M365.8 265Q366.6 258.5 363.6 255.2" stroke-width="1.02"/>
<path d="M348.6 262.6Q356.6 266.8 364.6 262.6" stroke-width="1.47"/>
<path d="M349.6 259.6Q356.6 263.2 363.6 259.6" stroke-width="1.24"/>
<path d="M350 249V257.6Q356.6 260.8 363.2 257.6V249" stroke-width="1.4"/>
<path d="M352.8 258.6V261.6M360.4 258.6V261.6M352.8 258.8H360.4" stroke-width="1.13"/>
<ellipse cx="356.6" cy="249.4" rx="6.5" ry="5.7" stroke-width="1.5" fill="#fff"/>
<ellipse cx="356.6" cy="249.5" rx="3.6" ry="3" stroke-width="1.13"/>
<!-- bracket -->
<path d="M397.6 235.4H408.7V263.3M397.6 235.4V260.4M397.6 249.2H408.7M397.6 260.2H408.7" stroke-width="1.24"/>
<path d="M385.4 260.4L397.6 243.6" stroke-width="1.13"/>
<rect x="385.4" y="259.6" width="12.2" height="3" fill="#8c8c8c" stroke-width="1.02"/>
<!-- housing -->
<path d="M385.4 263.3H408.7M385.4 280H408.7M385.4 348.8H408.7M385.4 366.7H408.7" stroke-width="1.24"/>
<path d="M408.3 263.3V366.7" stroke-width="1.02"/>
<path d="M413.3 280.8V349.2" stroke-width="1.6"/>
<!-- studs -->
<rect x="411.2" y="269.2" width="3.4" height="11.2" fill="#9a9a9a" stroke="none"/>
<rect x="435.6" y="270" width="2.4" height="9.6" fill="#a8a8a8" stroke="none"/>
<path d="M408.7 268.8H435.3Q438.4 268.8 438.4 272V277.6Q438.4 280.8 435.3 280.8H408.7" stroke-width="1.24"/>
<path d="M411.2 268.8V280.8M414.6 268.8V280.8M435.5 269.5V280" stroke-width="0.79"/>
<rect x="411.2" y="349.6" width="3.4" height="10.6" fill="#9a9a9a" stroke="none"/>
<rect x="435.6" y="350.2" width="2.4" height="9.4" fill="#a8a8a8" stroke="none"/>
<path d="M408.7 349.2H435.3Q438.4 349.2 438.4 352.4V357.4Q438.4 360.5 435.3 360.5H408.7" stroke-width="1.24"/>
<path d="M411.2 349.2V360.5M414.6 349.2V360.5M435.5 350V360" stroke-width="0.79"/>
<!-- flange face -->
<path d="M428.4 280.8V349.2" stroke-width="1.7"/>
<path d="M430 291.7V337.5" stroke-width="1.36"/>
<path d="M428.4 291.7H435V337.5H428.4" stroke-width="1.13"/>
<path d="M432 292V337" stroke-width="0.56"/>
<!-- taper + shaft -->
<path d="M435 297.6Q436 300.6 440.2 301.2H616.6M435 331.6Q436 328.8 440.2 328.3H616.6" stroke-width="1.24"/>
<path d="M440.2 301.2V328.3" stroke-width="1.02"/>
<!-- spline -->
<rect x="616.4" y="298.8" width="32.8" height="32" rx="3.4" fill="#3a3a3a" stroke-width="1.24"/>
<g stroke="none">
<rect x="618.8" y="300.6" width="29" height="1.6" rx="0.8" fill="#e8e8e8"/>
<rect x="619.3" y="304" width="28.6" height="2.2" rx="1" fill="#fff"/>
<rect x="619.3" y="308.8" width="28.6" height="2.4" rx="1" fill="#9a9a9a"/>
<rect x="619.3" y="313.6" width="28.6" height="2.2" rx="1" fill="#b8b8b8"/>
<rect x="619.3" y="318.4" width="28.6" height="2.4" rx="1" fill="#9a9a9a"/>
<rect x="619.3" y="323.4" width="28.6" height="2.2" rx="1" fill="#fff"/>
<rect x="618.8" y="327.4" width="29" height="1.6" rx="0.8" fill="#e8e8e8"/>
</g>
</g>

<g fill="none" stroke="#2a2a2a" stroke-width="0.6">
<!-- front view dims -->
<path d="M166.7 361.5V393.5M246.4 361.5V393.5M166.7 390.6H246.4"/>
<path d="M253 275H283M253 354.8H283M279.7 275V354.8"/>
<path d="M280.4 240.6L242 279"/>
<!-- side view dims -->
<path d="M320.3 369.5V447M385.4 369.5V424M413.4 361V401.5M648.8 331.5V447"/>
<path d="M320.3 398.8H424M385.4 421.8H648.8M320.3 444.2H648.8"/>
<!-- leader -->
<path d="M253 197.7H345.2L357 236" stroke-width="0.7"/>
</g>
<g fill="#151515" stroke="none">
<path d="M166.7 390.6l10-2v4zM246.4 390.6l-10-2v4z"/>
<path d="M279.7 275l-2 10h4zM279.7 354.8l-2-10h4z"/>
<path d="M250.4 270.6l4.2-7.6l3.4 3.4z"/>
<path d="M320.3 398.8l10-2v4zM385.4 398.8l-10-2v4zM413.4 398.8l10-2v4z"/>
<path d="M385.4 421.8l10-2v4zM648.8 421.8l-10-2v4z"/>
<path d="M320.3 444.2l10-2v4zM648.8 444.2l-10-2v4z"/>
<path d="M358.2 243.2l-4.6-9l3.6-1.1z"/>
</g>
<defs><filter id="gs" x="-5%" y="-5%" width="110%" height="110%" color-interpolation-filters="sRGB"><feColorMatrix type="saturate" values="0"/></filter></defs>
<g filter="url(#gs)"><g font-family="'Liberation Sans',sans-serif" font-size="10.2" fill="#1a1a1a" stroke="#1a1a1a" stroke-width="0.15" text-anchor="middle">
<text x="208.4" y="388.4">80</text>
<text transform="translate(275.6 315) rotate(-90)">80</text>
<text transform="translate(269.8 249.6) rotate(-45)" font-size="10.4">Ø&#8201;13</text>
<text x="353.3" y="396.9">65</text>
<text x="400.8" y="396.9">28</text>
<text x="523.8" y="419.9">264</text>
<text x="512.3" y="442.3">329</text>
<text x="253" y="195.2" text-anchor="start" font-size="10.3" textLength="79" lengthAdjust="spacingAndGlyphs">AIR INLET R1/4"</text>
</g></g>

</svg>
</body></html>
